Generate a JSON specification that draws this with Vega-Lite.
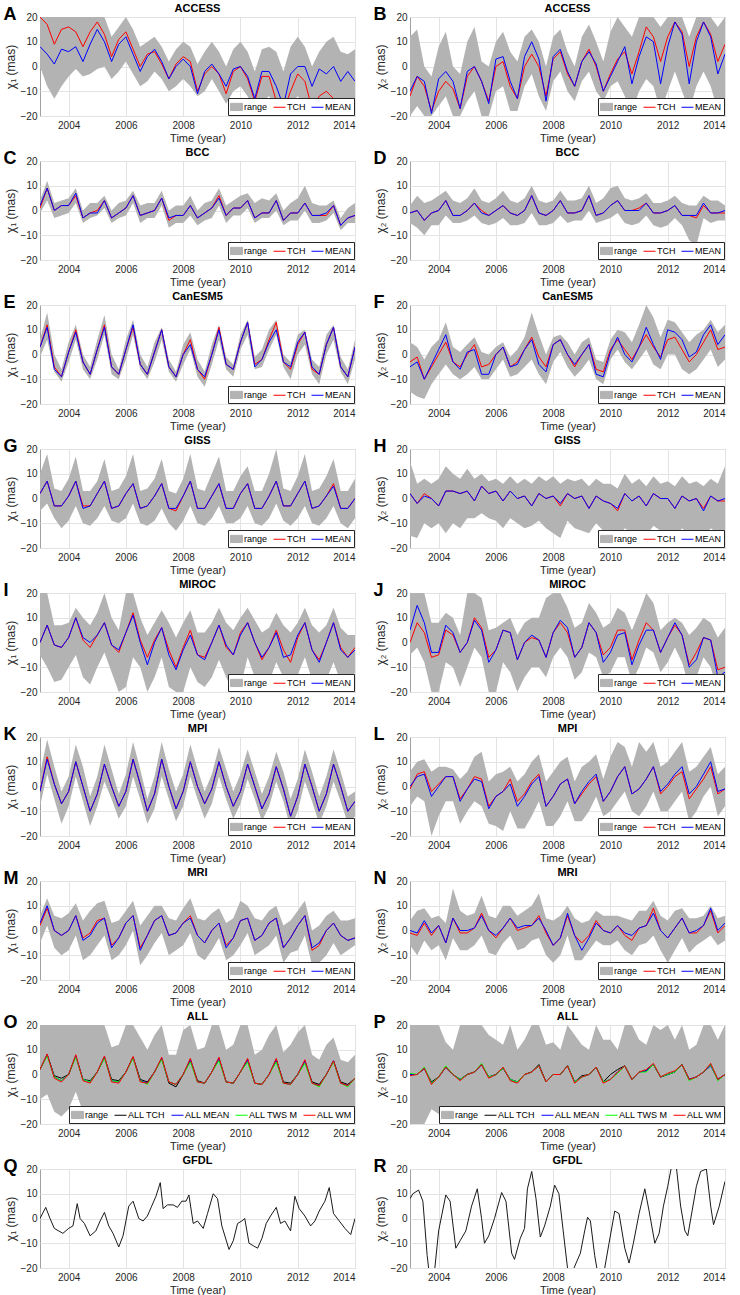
{
  "$schema": "https://vega.github.io/schema/vega-lite/v6.json",
  "padding": {"left": 2, "top": 2, "right": 0, "bottom": 0},
  "autosize": {"type": "pad"},
  "bounds": "flush",
  "columns": 2,
  "spacing": {"row": 45, "column": 55},
  "resolve": {"scale": {"color": "independent"}},
  "datasets": {
    "A": [
      {"t":2003,"lo":0,"hi":20,"TCH":20,"MEAN":8},{"t":2003.25,"lo":-8,"hi":20,"TCH":17,"MEAN":5},{"t":2003.5,"lo":-13,"hi":20,"TCH":9,"MEAN":1},{"t":2003.75,"lo":-8,"hi":20,"TCH":15,"MEAN":7},
      {"t":2004,"lo":-4,"hi":20,"TCH":16,"MEAN":6},{"t":2004.25,"lo":-1,"hi":20,"TCH":14,"MEAN":8},{"t":2004.5,"lo":-4,"hi":20,"TCH":8,"MEAN":2},{"t":2004.75,"lo":-3,"hi":20,"TCH":14,"MEAN":9},
      {"t":2005,"lo":-1,"hi":20,"TCH":18,"MEAN":15},{"t":2005.25,"lo":0,"hi":20,"TCH":13,"MEAN":10},{"t":2005.5,"lo":-5,"hi":12,"TCH":4,"MEAN":2},{"t":2005.75,"lo":-2,"hi":16,"TCH":11,"MEAN":9},
      {"t":2006,"lo":2,"hi":20,"TCH":14,"MEAN":12},{"t":2006.25,"lo":-3,"hi":15,"TCH":7,"MEAN":5},{"t":2006.5,"lo":-8,"hi":8,"TCH":0,"MEAN":-2},{"t":2006.75,"lo":-6,"hi":10,"TCH":5,"MEAN":4},
      {"t":2007,"lo":-2,"hi":12,"TCH":6,"MEAN":7},{"t":2007.25,"lo":-5,"hi":8,"TCH":1,"MEAN":2},{"t":2007.5,"lo":-10,"hi":2,"TCH":-5,"MEAN":-5},{"t":2007.75,"lo":-8,"hi":7,"TCH":1,"MEAN":0},
      {"t":2008,"lo":-5,"hi":10,"TCH":4,"MEAN":3},{"t":2008.25,"lo":-8,"hi":8,"TCH":2,"MEAN":0},{"t":2008.5,"lo":-12,"hi":1,"TCH":-10,"MEAN":-11},{"t":2008.75,"lo":-10,"hi":6,"TCH":-3,"MEAN":-2},
      {"t":2009,"lo":-5,"hi":10,"TCH":0,"MEAN":1},{"t":2009.25,"lo":-10,"hi":6,"TCH":-3,"MEAN":-3},{"t":2009.5,"lo":-15,"hi":0,"TCH":-11,"MEAN":-8},{"t":2009.75,"lo":-10,"hi":7,"TCH":-2,"MEAN":-1},
      {"t":2010,"lo":-8,"hi":10,"TCH":0,"MEAN":0},{"t":2010.25,"lo":-12,"hi":6,"TCH":-5,"MEAN":-4},{"t":2010.5,"lo":-18,"hi":-2,"TCH":-14,"MEAN":-13},{"t":2010.75,"lo":-14,"hi":7,"TCH":-4,"MEAN":-2},
      {"t":2011,"lo":-12,"hi":8,"TCH":-4,"MEAN":-2},{"t":2011.25,"lo":-16,"hi":6,"TCH":-14,"MEAN":-8},{"t":2011.5,"lo":-20,"hi":-2,"TCH":-18,"MEAN":-16},{"t":2011.75,"lo":-15,"hi":8,"TCH":-10,"MEAN":-3},
      {"t":2012,"lo":-12,"hi":12,"TCH":-3,"MEAN":0},{"t":2012.25,"lo":-15,"hi":8,"TCH":-6,"MEAN":0},{"t":2012.5,"lo":-20,"hi":0,"TCH":-17,"MEAN":-8},{"t":2012.75,"lo":-18,"hi":6,"TCH":-12,"MEAN":-1},
      {"t":2013,"lo":-17,"hi":10,"TCH":-10,"MEAN":-3},{"t":2013.25,"lo":-20,"hi":12,"TCH":-13,"MEAN":0},{"t":2013.5,"lo":-20,"hi":6,"TCH":-16,"MEAN":-6},{"t":2013.75,"lo":-18,"hi":5,"TCH":-13,"MEAN":-2},
      {"t":2014,"lo":-18,"hi":7,"TCH":-13,"MEAN":-6}
    ],
    "B": [
      {"t":2003,"lo":-20,"hi":12,"TCH":-12,"MEAN":-10},{"t":2003.25,"lo":-16,"hi":15,"TCH":-4,"MEAN":-4},{"t":2003.5,"lo":-20,"hi":0,"TCH":-8,"MEAN":-6},{"t":2003.75,"lo":-20,"hi":-4,"TCH":-18,"MEAN":-19},
      {"t":2004,"lo":-16,"hi":8,"TCH":-10,"MEAN":-5},{"t":2004.25,"lo":-12,"hi":14,"TCH":-6,"MEAN":-2},{"t":2004.5,"lo":-20,"hi":0,"TCH":-9,"MEAN":-6},{"t":2004.75,"lo":-20,"hi":-3,"TCH":-17,"MEAN":-17},
      {"t":2005,"lo":-14,"hi":10,"TCH":-4,"MEAN":-2},{"t":2005.25,"lo":-10,"hi":16,"TCH":0,"MEAN":0},{"t":2005.5,"lo":-20,"hi":2,"TCH":-6,"MEAN":-6},{"t":2005.75,"lo":-20,"hi":0,"TCH":-14,"MEAN":-15},
      {"t":2006,"lo":-10,"hi":10,"TCH":0,"MEAN":3},{"t":2006.25,"lo":-8,"hi":14,"TCH":2,"MEAN":4},{"t":2006.5,"lo":-18,"hi":6,"TCH":-8,"MEAN":-6},{"t":2006.75,"lo":-18,"hi":2,"TCH":-13,"MEAN":-13},
      {"t":2007,"lo":-8,"hi":12,"TCH":0,"MEAN":4},{"t":2007.25,"lo":-3,"hi":15,"TCH":5,"MEAN":10},{"t":2007.5,"lo":-12,"hi":10,"TCH":0,"MEAN":3},{"t":2007.75,"lo":-18,"hi":0,"TCH":-12,"MEAN":-14},
      {"t":2008,"lo":-6,"hi":12,"TCH":3,"MEAN":4},{"t":2008.25,"lo":-2,"hi":15,"TCH":6,"MEAN":7},{"t":2008.5,"lo":-10,"hi":6,"TCH":-3,"MEAN":-2},{"t":2008.75,"lo":-14,"hi":0,"TCH":-8,"MEAN":-8},
      {"t":2009,"lo":-6,"hi":12,"TCH":2,"MEAN":2},{"t":2009.25,"lo":-2,"hi":17,"TCH":7,"MEAN":6},{"t":2009.5,"lo":-10,"hi":10,"TCH":0,"MEAN":1},{"t":2009.75,"lo":-14,"hi":2,"TCH":-10,"MEAN":-10},
      {"t":2010,"lo":-8,"hi":14,"TCH":-3,"MEAN":-4},{"t":2010.25,"lo":-6,"hi":20,"TCH":3,"MEAN":2},{"t":2010.5,"lo":-12,"hi":16,"TCH":6,"MEAN":8},{"t":2010.75,"lo":-18,"hi":12,"TCH":-3,"MEAN":-7},
      {"t":2011,"lo":-10,"hi":20,"TCH":6,"MEAN":4},{"t":2011.25,"lo":-5,"hi":20,"TCH":16,"MEAN":12},{"t":2011.5,"lo":-8,"hi":20,"TCH":12,"MEAN":10},{"t":2011.75,"lo":-18,"hi":16,"TCH":2,"MEAN":-7},
      {"t":2012,"lo":-10,"hi":20,"TCH":12,"MEAN":8},{"t":2012.25,"lo":-2,"hi":20,"TCH":18,"MEAN":18},{"t":2012.5,"lo":-10,"hi":20,"TCH":14,"MEAN":13},{"t":2012.75,"lo":-18,"hi":12,"TCH":0,"MEAN":-7},
      {"t":2013,"lo":-8,"hi":20,"TCH":12,"MEAN":10},{"t":2013.25,"lo":-2,"hi":20,"TCH":18,"MEAN":18},{"t":2013.5,"lo":-8,"hi":20,"TCH":13,"MEAN":12},{"t":2013.75,"lo":-18,"hi":16,"TCH":2,"MEAN":-3},
      {"t":2014,"lo":-14,"hi":20,"TCH":9,"MEAN":5}
    ],
    "C": [
      {"t":2003,"lo":-1,"hi":4,"TCH":1,"MEAN":2},{"t":2003.25,"lo":4,"hi":12,"TCH":9,"MEAN":9},{"t":2003.5,"lo":-3,"hi":3,"TCH":0,"MEAN":0},{"t":2003.75,"lo":-2,"hi":4,"TCH":2,"MEAN":2},
      {"t":2004,"lo":-1,"hi":5,"TCH":2,"MEAN":2},{"t":2004.25,"lo":3,"hi":9,"TCH":6,"MEAN":7},{"t":2004.5,"lo":-5,"hi":0,"TCH":-3,"MEAN":-3},{"t":2004.75,"lo":-3,"hi":3,"TCH":-1,"MEAN":-1},
      {"t":2005,"lo":-2,"hi":3,"TCH":0,"MEAN":-1},{"t":2005.25,"lo":1,"hi":6,"TCH":4,"MEAN":4},{"t":2005.5,"lo":-5,"hi":0,"TCH":-3,"MEAN":-3},{"t":2005.75,"lo":-3,"hi":3,"TCH":-1,"MEAN":-1},
      {"t":2006,"lo":-2,"hi":4,"TCH":1,"MEAN":1},{"t":2006.25,"lo":3,"hi":8,"TCH":6,"MEAN":6},{"t":2006.5,"lo":-5,"hi":2,"TCH":-2,"MEAN":-2},{"t":2006.75,"lo":-3,"hi":3,"TCH":-1,"MEAN":-1},
      {"t":2007,"lo":-3,"hi":3,"TCH":0,"MEAN":0},{"t":2007.25,"lo":2,"hi":8,"TCH":5,"MEAN":5},{"t":2007.5,"lo":-7,"hi":0,"TCH":-4,"MEAN":-3},{"t":2007.75,"lo":-5,"hi":2,"TCH":-2,"MEAN":-2},
      {"t":2008,"lo":-5,"hi":2,"TCH":-2,"MEAN":-2},{"t":2008.25,"lo":-2,"hi":6,"TCH":2,"MEAN":2},{"t":2008.5,"lo":-6,"hi":0,"TCH":-3,"MEAN":-3},{"t":2008.75,"lo":-4,"hi":3,"TCH":-1,"MEAN":-1},
      {"t":2009,"lo":-3,"hi":4,"TCH":1,"MEAN":1},{"t":2009.25,"lo":2,"hi":9,"TCH":6,"MEAN":5},{"t":2009.5,"lo":-5,"hi":2,"TCH":-2,"MEAN":-2},{"t":2009.75,"lo":-2,"hi":4,"TCH":1,"MEAN":1},
      {"t":2010,"lo":-2,"hi":6,"TCH":1,"MEAN":1},{"t":2010.25,"lo":1,"hi":7,"TCH":4,"MEAN":4},{"t":2010.5,"lo":-5,"hi":3,"TCH":-3,"MEAN":-3},{"t":2010.75,"lo":-3,"hi":5,"TCH":-1,"MEAN":-1},
      {"t":2011,"lo":-3,"hi":4,"TCH":-1,"MEAN":-1},{"t":2011.25,"lo":0,"hi":7,"TCH":4,"MEAN":4},{"t":2011.5,"lo":-6,"hi":0,"TCH":-4,"MEAN":-4},{"t":2011.75,"lo":-4,"hi":3,"TCH":-1,"MEAN":-1},
      {"t":2012,"lo":-4,"hi":5,"TCH":-1,"MEAN":-1},{"t":2012.25,"lo":0,"hi":10,"TCH":3,"MEAN":3},{"t":2012.5,"lo":-5,"hi":3,"TCH":-2,"MEAN":-2},{"t":2012.75,"lo":-5,"hi":2,"TCH":-2,"MEAN":-2},
      {"t":2013,"lo":-4,"hi":2,"TCH":-2,"MEAN":-1},{"t":2013.25,"lo":-1,"hi":4,"TCH":2,"MEAN":2},{"t":2013.5,"lo":-8,"hi":-3,"TCH":-6,"MEAN":-6},{"t":2013.75,"lo":-5,"hi":1,"TCH":-3,"MEAN":-3},
      {"t":2014,"lo":-5,"hi":3,"TCH":-2,"MEAN":-2}
    ],
    "D": [
      {"t":2003,"lo":-5,"hi":2,"TCH":-1,"MEAN":-1},{"t":2003.25,"lo":-7,"hi":6,"TCH":0,"MEAN":0},{"t":2003.5,"lo":-10,"hi":3,"TCH":-4,"MEAN":-4},{"t":2003.75,"lo":-6,"hi":4,"TCH":-1,"MEAN":-1},
      {"t":2004,"lo":-6,"hi":6,"TCH":0,"MEAN":0},{"t":2004.25,"lo":-2,"hi":8,"TCH":4,"MEAN":4},{"t":2004.5,"lo":-5,"hi":4,"TCH":-2,"MEAN":-2},{"t":2004.75,"lo":-5,"hi":3,"TCH":-2,"MEAN":-2},
      {"t":2005,"lo":-4,"hi":5,"TCH":0,"MEAN":0},{"t":2005.25,"lo":-2,"hi":9,"TCH":3,"MEAN":3},{"t":2005.5,"lo":-5,"hi":4,"TCH":0,"MEAN":-1},{"t":2005.75,"lo":-6,"hi":3,"TCH":-2,"MEAN":-2},
      {"t":2006,"lo":-5,"hi":5,"TCH":0,"MEAN":0},{"t":2006.25,"lo":-3,"hi":8,"TCH":2,"MEAN":2},{"t":2006.5,"lo":-6,"hi":4,"TCH":-1,"MEAN":-1},{"t":2006.75,"lo":-6,"hi":3,"TCH":-2,"MEAN":-2},
      {"t":2007,"lo":-5,"hi":5,"TCH":0,"MEAN":0},{"t":2007.25,"lo":-1,"hi":10,"TCH":6,"MEAN":6},{"t":2007.5,"lo":-6,"hi":4,"TCH":-1,"MEAN":-1},{"t":2007.75,"lo":-6,"hi":3,"TCH":-2,"MEAN":-2},
      {"t":2008,"lo":-5,"hi":4,"TCH":0,"MEAN":0},{"t":2008.25,"lo":-2,"hi":8,"TCH":4,"MEAN":4},{"t":2008.5,"lo":-5,"hi":4,"TCH":-1,"MEAN":-1},{"t":2008.75,"lo":-4,"hi":4,"TCH":-1,"MEAN":-1},
      {"t":2009,"lo":-4,"hi":5,"TCH":0,"MEAN":0},{"t":2009.25,"lo":0,"hi":10,"TCH":6,"MEAN":6},{"t":2009.5,"lo":-5,"hi":3,"TCH":-2,"MEAN":-2},{"t":2009.75,"lo":-4,"hi":5,"TCH":-1,"MEAN":-1},
      {"t":2010,"lo":-3,"hi":9,"TCH":2,"MEAN":2},{"t":2010.25,"lo":-1,"hi":10,"TCH":4,"MEAN":4},{"t":2010.5,"lo":-5,"hi":5,"TCH":0,"MEAN":0},{"t":2010.75,"lo":-6,"hi":4,"TCH":0,"MEAN":0},
      {"t":2011,"lo":-5,"hi":5,"TCH":1,"MEAN":0},{"t":2011.25,"lo":-2,"hi":7,"TCH":3,"MEAN":3},{"t":2011.5,"lo":-6,"hi":3,"TCH":-1,"MEAN":-1},{"t":2011.75,"lo":-7,"hi":3,"TCH":-1,"MEAN":-1},
      {"t":2012,"lo":-6,"hi":4,"TCH":0,"MEAN":0},{"t":2012.25,"lo":-3,"hi":6,"TCH":2,"MEAN":2},{"t":2012.5,"lo":-6,"hi":3,"TCH":-2,"MEAN":-2},{"t":2012.75,"lo":-12,"hi":2,"TCH":-2,"MEAN":-2},
      {"t":2013,"lo":-14,"hi":2,"TCH":-3,"MEAN":-2},{"t":2013.25,"lo":-3,"hi":6,"TCH":2,"MEAN":3},{"t":2013.5,"lo":-5,"hi":4,"TCH":-1,"MEAN":-1},{"t":2013.75,"lo":-4,"hi":4,"TCH":-1,"MEAN":-1},
      {"t":2014,"lo":-4,"hi":2,"TCH":-1,"MEAN":0}
    ],
    "E": [
      {"t":2003,"lo":-1,"hi":6,"TCH":3,"MEAN":3},{"t":2003.25,"lo":6,"hi":17,"TCH":12,"MEAN":11},{"t":2003.5,"lo":-7,"hi":0,"TCH":-5,"MEAN":-6},{"t":2003.75,"lo":-11,"hi":-6,"TCH":-9,"MEAN":-9},
      {"t":2004,"lo":-3,"hi":5,"TCH":1,"MEAN":1},{"t":2004.25,"lo":6,"hi":12,"TCH":10,"MEAN":9},{"t":2004.5,"lo":-6,"hi":0,"TCH":-3,"MEAN":-3},{"t":2004.75,"lo":-10,"hi":-5,"TCH":-8,"MEAN":-8},
      {"t":2005,"lo":-2,"hi":6,"TCH":2,"MEAN":2},{"t":2005.25,"lo":8,"hi":16,"TCH":12,"MEAN":11},{"t":2005.5,"lo":-8,"hi":0,"TCH":-5,"MEAN":-5},{"t":2005.75,"lo":-10,"hi":-6,"TCH":-8,"MEAN":-8},
      {"t":2006,"lo":-2,"hi":6,"TCH":2,"MEAN":2},{"t":2006.25,"lo":8,"hi":14,"TCH":11,"MEAN":12},{"t":2006.5,"lo":-6,"hi":0,"TCH":-4,"MEAN":-4},{"t":2006.75,"lo":-10,"hi":-5,"TCH":-8,"MEAN":-8},
      {"t":2007,"lo":-3,"hi":5,"TCH":1,"MEAN":1},{"t":2007.25,"lo":6,"hi":11,"TCH":10,"MEAN":10},{"t":2007.5,"lo":-7,"hi":-2,"TCH":-5,"MEAN":-5},{"t":2007.75,"lo":-11,"hi":-7,"TCH":-9,"MEAN":-9},
      {"t":2008,"lo":-4,"hi":4,"TCH":0,"MEAN":0},{"t":2008.25,"lo":2,"hi":9,"TCH":6,"MEAN":4},{"t":2008.5,"lo":-9,"hi":-2,"TCH":-6,"MEAN":-6},{"t":2008.75,"lo":-13,"hi":-7,"TCH":-10,"MEAN":-9},
      {"t":2009,"lo":-4,"hi":4,"TCH":0,"MEAN":0},{"t":2009.25,"lo":6,"hi":12,"TCH":11,"MEAN":10},{"t":2009.5,"lo":-6,"hi":-1,"TCH":-4,"MEAN":-4},{"t":2009.75,"lo":-9,"hi":-4,"TCH":-6,"MEAN":-6},
      {"t":2010,"lo":2,"hi":8,"TCH":5,"MEAN":5},{"t":2010.25,"lo":8,"hi":14,"TCH":13,"MEAN":13},{"t":2010.5,"lo":-6,"hi":-1,"TCH":-4,"MEAN":-5},{"t":2010.75,"lo":-5,"hi":2,"TCH":-2,"MEAN":-2},
      {"t":2011,"lo":2,"hi":10,"TCH":6,"MEAN":5},{"t":2011.25,"lo":8,"hi":14,"TCH":13,"MEAN":10},{"t":2011.5,"lo":-5,"hi":0,"TCH":-3,"MEAN":-3},{"t":2011.75,"lo":-10,"hi":-3,"TCH":-6,"MEAN":-5},
      {"t":2012,"lo":0,"hi":8,"TCH":4,"MEAN":5},{"t":2012.25,"lo":4,"hi":10,"TCH":9,"MEAN":9},{"t":2012.5,"lo":-8,"hi":-2,"TCH":-6,"MEAN":-5},{"t":2012.75,"lo":-12,"hi":-5,"TCH":-8,"MEAN":-8},
      {"t":2013,"lo":0,"hi":8,"TCH":4,"MEAN":4},{"t":2013.25,"lo":6,"hi":12,"TCH":11,"MEAN":11},{"t":2013.5,"lo":-7,"hi":-1,"TCH":-5,"MEAN":-5},{"t":2013.75,"lo":-12,"hi":-6,"TCH":-9,"MEAN":-9},
      {"t":2014,"lo":-2,"hi":6,"TCH":3,"MEAN":3}
    ],
    "F": [
      {"t":2003,"lo":-15,"hi":5,"TCH":-3,"MEAN":-5},{"t":2003.25,"lo":-17,"hi":3,"TCH":-1,"MEAN":-3},{"t":2003.5,"lo":-18,"hi":-2,"TCH":-10,"MEAN":-10},{"t":2003.75,"lo":-12,"hi":3,"TCH":-5,"MEAN":-4},
      {"t":2004,"lo":-8,"hi":6,"TCH":0,"MEAN":2},{"t":2004.25,"lo":-4,"hi":13,"TCH":5,"MEAN":8},{"t":2004.5,"lo":-8,"hi":3,"TCH":-3,"MEAN":-3},{"t":2004.75,"lo":-10,"hi":1,"TCH":-5,"MEAN":-6},
      {"t":2005,"lo":-8,"hi":4,"TCH":0,"MEAN":1},{"t":2005.25,"lo":-5,"hi":7,"TCH":4,"MEAN":2},{"t":2005.5,"lo":-10,"hi":1,"TCH":-5,"MEAN":-8},{"t":2005.75,"lo":-10,"hi":0,"TCH":-4,"MEAN":-8},
      {"t":2006,"lo":-6,"hi":3,"TCH":0,"MEAN":0},{"t":2006.25,"lo":-2,"hi":5,"TCH":3,"MEAN":3},{"t":2006.5,"lo":-9,"hi":-1,"TCH":-5,"MEAN":-5},{"t":2006.75,"lo":-8,"hi":2,"TCH":-3,"MEAN":-4},
      {"t":2007,"lo":-5,"hi":7,"TCH":2,"MEAN":2},{"t":2007.25,"lo":-2,"hi":17,"TCH":7,"MEAN":6},{"t":2007.5,"lo":-8,"hi":8,"TCH":-1,"MEAN":-4},{"t":2007.75,"lo":-12,"hi":0,"TCH":-5,"MEAN":-7},
      {"t":2008,"lo":-3,"hi":7,"TCH":4,"MEAN":4},{"t":2008.25,"lo":1,"hi":8,"TCH":6,"MEAN":6},{"t":2008.5,"lo":-5,"hi":5,"TCH":0,"MEAN":0},{"t":2008.75,"lo":-9,"hi":0,"TCH":-5,"MEAN":-4},
      {"t":2009,"lo":-6,"hi":5,"TCH":0,"MEAN":0},{"t":2009.25,"lo":-2,"hi":7,"TCH":4,"MEAN":4},{"t":2009.5,"lo":-10,"hi":-2,"TCH":-6,"MEAN":-8},{"t":2009.75,"lo":-12,"hi":-3,"TCH":-7,"MEAN":-9},
      {"t":2010,"lo":-2,"hi":6,"TCH":2,"MEAN":1},{"t":2010.25,"lo":2,"hi":10,"TCH":6,"MEAN":7},{"t":2010.5,"lo":-3,"hi":9,"TCH":2,"MEAN":0},{"t":2010.75,"lo":-6,"hi":5,"TCH":-2,"MEAN":-3},
      {"t":2011,"lo":-2,"hi":12,"TCH":3,"MEAN":3},{"t":2011.25,"lo":2,"hi":20,"TCH":8,"MEAN":11},{"t":2011.5,"lo":-4,"hi":15,"TCH":3,"MEAN":4},{"t":2011.75,"lo":-6,"hi":7,"TCH":-1,"MEAN":-2},
      {"t":2012,"lo":0,"hi":14,"TCH":6,"MEAN":10},{"t":2012.25,"lo":0,"hi":13,"TCH":7,"MEAN":9},{"t":2012.5,"lo":-6,"hi":9,"TCH":2,"MEAN":6},{"t":2012.75,"lo":-8,"hi":5,"TCH":-3,"MEAN":-1},
      {"t":2013,"lo":-6,"hi":8,"TCH":0,"MEAN":1},{"t":2013.25,"lo":-2,"hi":10,"TCH":5,"MEAN":8},{"t":2013.5,"lo":2,"hi":14,"TCH":10,"MEAN":12},{"t":2013.75,"lo":-5,"hi":9,"TCH":2,"MEAN":4},
      {"t":2014,"lo":-2,"hi":12,"TCH":3,"MEAN":8}
    ],
    "G": [
      {"t":2003,"lo":-5,"hi":10,"TCH":2,"MEAN":2},{"t":2003.25,"lo":-2,"hi":18,"TCH":7,"MEAN":7},{"t":2003.5,"lo":-8,"hi":4,"TCH":-3,"MEAN":-3},{"t":2003.75,"lo":-12,"hi":3,"TCH":-3,"MEAN":-3},
      {"t":2004,"lo":-9,"hi":8,"TCH":1,"MEAN":1},{"t":2004.25,"lo":-3,"hi":17,"TCH":7,"MEAN":7},{"t":2004.5,"lo":-10,"hi":3,"TCH":-3,"MEAN":-4},{"t":2004.75,"lo":-11,"hi":3,"TCH":-3,"MEAN":-3},
      {"t":2005,"lo":-8,"hi":7,"TCH":2,"MEAN":2},{"t":2005.25,"lo":-3,"hi":16,"TCH":7,"MEAN":7},{"t":2005.5,"lo":-9,"hi":3,"TCH":-4,"MEAN":-4},{"t":2005.75,"lo":-10,"hi":4,"TCH":-3,"MEAN":-3},
      {"t":2006,"lo":-8,"hi":9,"TCH":2,"MEAN":2},{"t":2006.25,"lo":-2,"hi":18,"TCH":6,"MEAN":6},{"t":2006.5,"lo":-10,"hi":3,"TCH":-4,"MEAN":-4},{"t":2006.75,"lo":-11,"hi":4,"TCH":-3,"MEAN":-3},
      {"t":2007,"lo":-9,"hi":8,"TCH":1,"MEAN":1},{"t":2007.25,"lo":-4,"hi":16,"TCH":6,"MEAN":6},{"t":2007.5,"lo":-10,"hi":3,"TCH":-4,"MEAN":-4},{"t":2007.75,"lo":-13,"hi":2,"TCH":-5,"MEAN":-4},
      {"t":2008,"lo":-9,"hi":8,"TCH":1,"MEAN":1},{"t":2008.25,"lo":-3,"hi":18,"TCH":7,"MEAN":7},{"t":2008.5,"lo":-10,"hi":4,"TCH":-4,"MEAN":-4},{"t":2008.75,"lo":-11,"hi":3,"TCH":-4,"MEAN":-4},
      {"t":2009,"lo":-8,"hi":10,"TCH":1,"MEAN":1},{"t":2009.25,"lo":-3,"hi":17,"TCH":6,"MEAN":6},{"t":2009.5,"lo":-10,"hi":3,"TCH":-4,"MEAN":-4},{"t":2009.75,"lo":-10,"hi":3,"TCH":-4,"MEAN":-4},
      {"t":2010,"lo":-8,"hi":9,"TCH":2,"MEAN":2},{"t":2010.25,"lo":-3,"hi":13,"TCH":6,"MEAN":6},{"t":2010.5,"lo":-10,"hi":3,"TCH":-4,"MEAN":-4},{"t":2010.75,"lo":-11,"hi":3,"TCH":-4,"MEAN":-4},
      {"t":2011,"lo":-8,"hi":10,"TCH":1,"MEAN":1},{"t":2011.25,"lo":-2,"hi":20,"TCH":7,"MEAN":7},{"t":2011.5,"lo":-9,"hi":4,"TCH":-3,"MEAN":-3},{"t":2011.75,"lo":-11,"hi":3,"TCH":-3,"MEAN":-3},
      {"t":2012,"lo":-8,"hi":9,"TCH":2,"MEAN":2},{"t":2012.25,"lo":-3,"hi":18,"TCH":7,"MEAN":7},{"t":2012.5,"lo":-10,"hi":3,"TCH":-4,"MEAN":-4},{"t":2012.75,"lo":-11,"hi":4,"TCH":-3,"MEAN":-3},
      {"t":2013,"lo":-8,"hi":9,"TCH":1,"MEAN":1},{"t":2013.25,"lo":-3,"hi":16,"TCH":6,"MEAN":5},{"t":2013.5,"lo":-10,"hi":3,"TCH":-4,"MEAN":-4},{"t":2013.75,"lo":-12,"hi":3,"TCH":-4,"MEAN":-4},
      {"t":2014,"lo":-8,"hi":8,"TCH":0,"MEAN":0}
    ],
    "H": [
      {"t":2003,"lo":-15,"hi":15,"TCH":2,"MEAN":2},{"t":2003.25,"lo":-16,"hi":6,"TCH":-2,"MEAN":-2},{"t":2003.5,"lo":-10,"hi":8,"TCH":2,"MEAN":1},{"t":2003.75,"lo":-12,"hi":6,"TCH":0,"MEAN":0},
      {"t":2004,"lo":-10,"hi":8,"TCH":-3,"MEAN":-3},{"t":2004.25,"lo":-14,"hi":13,"TCH":3,"MEAN":3},{"t":2004.5,"lo":-10,"hi":10,"TCH":3,"MEAN":3},{"t":2004.75,"lo":-12,"hi":8,"TCH":2,"MEAN":2},
      {"t":2005,"lo":-8,"hi":12,"TCH":3,"MEAN":3},{"t":2005.25,"lo":-8,"hi":8,"TCH":-1,"MEAN":-1},{"t":2005.5,"lo":-6,"hi":10,"TCH":5,"MEAN":5},{"t":2005.75,"lo":-8,"hi":7,"TCH":2,"MEAN":2},
      {"t":2006,"lo":-9,"hi":8,"TCH":3,"MEAN":3},{"t":2006.25,"lo":-12,"hi":6,"TCH":-1,"MEAN":-1},{"t":2006.5,"lo":-8,"hi":9,"TCH":3,"MEAN":3},{"t":2006.75,"lo":-10,"hi":6,"TCH":0,"MEAN":0},
      {"t":2007,"lo":-12,"hi":8,"TCH":1,"MEAN":1},{"t":2007.25,"lo":-11,"hi":6,"TCH":-3,"MEAN":-3},{"t":2007.5,"lo":-9,"hi":9,"TCH":2,"MEAN":2},{"t":2007.75,"lo":-12,"hi":7,"TCH":0,"MEAN":0},
      {"t":2008,"lo":-14,"hi":9,"TCH":1,"MEAN":1},{"t":2008.25,"lo":-16,"hi":6,"TCH":-3,"MEAN":-2},{"t":2008.5,"lo":-9,"hi":8,"TCH":2,"MEAN":2},{"t":2008.75,"lo":-12,"hi":7,"TCH":0,"MEAN":0},
      {"t":2009,"lo":-13,"hi":8,"TCH":1,"MEAN":1},{"t":2009.25,"lo":-14,"hi":5,"TCH":-4,"MEAN":-4},{"t":2009.5,"lo":-10,"hi":8,"TCH":1,"MEAN":1},{"t":2009.75,"lo":-13,"hi":6,"TCH":-1,"MEAN":-1},
      {"t":2010,"lo":-15,"hi":6,"TCH":-2,"MEAN":-2},{"t":2010.25,"lo":-16,"hi":4,"TCH":-5,"MEAN":-4},{"t":2010.5,"lo":-12,"hi":10,"TCH":2,"MEAN":2},{"t":2010.75,"lo":-14,"hi":6,"TCH":-1,"MEAN":-1},
      {"t":2011,"lo":-14,"hi":8,"TCH":1,"MEAN":1},{"t":2011.25,"lo":-15,"hi":5,"TCH":-3,"MEAN":-3},{"t":2011.5,"lo":-11,"hi":9,"TCH":2,"MEAN":2},{"t":2011.75,"lo":-13,"hi":6,"TCH":0,"MEAN":0},
      {"t":2012,"lo":-16,"hi":7,"TCH":0,"MEAN":0},{"t":2012.25,"lo":-17,"hi":5,"TCH":-4,"MEAN":-4},{"t":2012.5,"lo":-12,"hi":9,"TCH":1,"MEAN":1},{"t":2012.75,"lo":-15,"hi":6,"TCH":-1,"MEAN":-1},
      {"t":2013,"lo":-14,"hi":7,"TCH":0,"MEAN":0},{"t":2013.25,"lo":-17,"hi":5,"TCH":-4,"MEAN":-5},{"t":2013.5,"lo":-12,"hi":8,"TCH":1,"MEAN":1},{"t":2013.75,"lo":-14,"hi":6,"TCH":-1,"MEAN":-1},
      {"t":2014,"lo":-16,"hi":13,"TCH":-1,"MEAN":0}
    ],
    "I": [
      {"t":2003,"lo":-5,"hi":20,"TCH":0,"MEAN":0},{"t":2003.25,"lo":-10,"hi":20,"TCH":7,"MEAN":7},{"t":2003.5,"lo":-16,"hi":7,"TCH":-1,"MEAN":-1},{"t":2003.75,"lo":-15,"hi":7,"TCH":-2,"MEAN":-2},
      {"t":2004,"lo":-10,"hi":8,"TCH":2,"MEAN":2},{"t":2004.25,"lo":-5,"hi":14,"TCH":10,"MEAN":10},{"t":2004.5,"lo":-14,"hi":10,"TCH":1,"MEAN":2},{"t":2004.75,"lo":-17,"hi":7,"TCH":-2,"MEAN":0},
      {"t":2005,"lo":-10,"hi":12,"TCH":3,"MEAN":3},{"t":2005.25,"lo":-4,"hi":20,"TCH":8,"MEAN":8},{"t":2005.5,"lo":-12,"hi":10,"TCH":-1,"MEAN":-1},{"t":2005.75,"lo":-20,"hi":5,"TCH":-4,"MEAN":-3},
      {"t":2006,"lo":-18,"hi":20,"TCH":4,"MEAN":4},{"t":2006.25,"lo":-6,"hi":20,"TCH":12,"MEAN":11},{"t":2006.5,"lo":-10,"hi":10,"TCH":1,"MEAN":0},{"t":2006.75,"lo":-20,"hi":3,"TCH":-6,"MEAN":-9},
      {"t":2007,"lo":-14,"hi":8,"TCH":1,"MEAN":0},{"t":2007.25,"lo":-6,"hi":13,"TCH":6,"MEAN":6},{"t":2007.5,"lo":-18,"hi":8,"TCH":-3,"MEAN":-5},{"t":2007.75,"lo":-20,"hi":2,"TCH":-10,"MEAN":-11},
      {"t":2008,"lo":-20,"hi":8,"TCH":-2,"MEAN":-3},{"t":2008.25,"lo":-10,"hi":13,"TCH":5,"MEAN":3},{"t":2008.5,"lo":-16,"hi":4,"TCH":-5,"MEAN":-5},{"t":2008.75,"lo":-18,"hi":4,"TCH":-6,"MEAN":-7},
      {"t":2009,"lo":-14,"hi":8,"TCH":0,"MEAN":0},{"t":2009.25,"lo":-7,"hi":14,"TCH":7,"MEAN":7},{"t":2009.5,"lo":-14,"hi":8,"TCH":-2,"MEAN":-1},{"t":2009.75,"lo":-20,"hi":5,"TCH":-5,"MEAN":-5},
      {"t":2010,"lo":-18,"hi":10,"TCH":4,"MEAN":3},{"t":2010.25,"lo":-6,"hi":14,"TCH":8,"MEAN":8},{"t":2010.5,"lo":-14,"hi":9,"TCH":0,"MEAN":0},{"t":2010.75,"lo":-18,"hi":4,"TCH":-7,"MEAN":-6},
      {"t":2011,"lo":-16,"hi":6,"TCH":-2,"MEAN":-2},{"t":2011.25,"lo":-8,"hi":12,"TCH":5,"MEAN":4},{"t":2011.5,"lo":-14,"hi":7,"TCH":-3,"MEAN":-6},{"t":2011.75,"lo":-17,"hi":4,"TCH":-8,"MEAN":-5},
      {"t":2012,"lo":-13,"hi":8,"TCH":2,"MEAN":3},{"t":2012.25,"lo":-6,"hi":14,"TCH":8,"MEAN":8},{"t":2012.5,"lo":-15,"hi":7,"TCH":-3,"MEAN":-3},{"t":2012.75,"lo":-18,"hi":4,"TCH":-7,"MEAN":-8},
      {"t":2013,"lo":-15,"hi":7,"TCH":0,"MEAN":0},{"t":2013.25,"lo":-8,"hi":14,"TCH":8,"MEAN":8},{"t":2013.5,"lo":-16,"hi":6,"TCH":-2,"MEAN":-3},{"t":2013.75,"lo":-20,"hi":3,"TCH":-6,"MEAN":-6},
      {"t":2014,"lo":-12,"hi":3,"TCH":-2,"MEAN":-3}
    ],
    "J": [
      {"t":2003,"lo":-5,"hi":20,"TCH":0,"MEAN":5},{"t":2003.25,"lo":-2,"hi":20,"TCH":8,"MEAN":15},{"t":2003.5,"lo":-8,"hi":20,"TCH":4,"MEAN":8},{"t":2003.75,"lo":-20,"hi":8,"TCH":-6,"MEAN":-4},
      {"t":2004,"lo":-20,"hi":8,"TCH":-5,"MEAN":-4},{"t":2004.25,"lo":-8,"hi":12,"TCH":5,"MEAN":7},{"t":2004.5,"lo":-10,"hi":10,"TCH":3,"MEAN":4},{"t":2004.75,"lo":-18,"hi":3,"TCH":-4,"MEAN":-4},
      {"t":2005,"lo":-10,"hi":20,"TCH":0,"MEAN":0},{"t":2005.25,"lo":-2,"hi":20,"TCH":10,"MEAN":9},{"t":2005.5,"lo":-6,"hi":18,"TCH":6,"MEAN":5},{"t":2005.75,"lo":-20,"hi":5,"TCH":-6,"MEAN":-8},
      {"t":2006,"lo":-20,"hi":6,"TCH":-3,"MEAN":-3},{"t":2006.25,"lo":-8,"hi":8,"TCH":5,"MEAN":5},{"t":2006.5,"lo":-12,"hi":10,"TCH":4,"MEAN":4},{"t":2006.75,"lo":-20,"hi":3,"TCH":-7,"MEAN":-7},
      {"t":2007,"lo":-14,"hi":8,"TCH":0,"MEAN":0},{"t":2007.25,"lo":-10,"hi":10,"TCH":2,"MEAN":3},{"t":2007.5,"lo":-10,"hi":10,"TCH":1,"MEAN":1},{"t":2007.75,"lo":-14,"hi":18,"TCH":-6,"MEAN":-6},
      {"t":2008,"lo":-6,"hi":20,"TCH":4,"MEAN":4},{"t":2008.25,"lo":-2,"hi":20,"TCH":8,"MEAN":9},{"t":2008.5,"lo":-6,"hi":14,"TCH":4,"MEAN":6},{"t":2008.75,"lo":-15,"hi":6,"TCH":-6,"MEAN":-6},
      {"t":2009,"lo":-12,"hi":8,"TCH":-2,"MEAN":-2},{"t":2009.25,"lo":-4,"hi":16,"TCH":8,"MEAN":8},{"t":2009.5,"lo":-6,"hi":12,"TCH":4,"MEAN":4},{"t":2009.75,"lo":-14,"hi":6,"TCH":-5,"MEAN":-8},
      {"t":2010,"lo":-12,"hi":8,"TCH":-2,"MEAN":-4},{"t":2010.25,"lo":-6,"hi":14,"TCH":5,"MEAN":3},{"t":2010.5,"lo":-6,"hi":12,"TCH":5,"MEAN":4},{"t":2010.75,"lo":-16,"hi":5,"TCH":-7,"MEAN":-9},
      {"t":2011,"lo":-10,"hi":12,"TCH":1,"MEAN":-1},{"t":2011.25,"lo":-2,"hi":20,"TCH":8,"MEAN":5},{"t":2011.5,"lo":-4,"hi":16,"TCH":5,"MEAN":5},{"t":2011.75,"lo":-12,"hi":5,"TCH":-4,"MEAN":-4},
      {"t":2012,"lo":-8,"hi":8,"TCH":2,"MEAN":2},{"t":2012.25,"lo":-2,"hi":10,"TCH":7,"MEAN":8},{"t":2012.5,"lo":-8,"hi":8,"TCH":3,"MEAN":3},{"t":2012.75,"lo":-18,"hi":3,"TCH":-9,"MEAN":-10},
      {"t":2013,"lo":-14,"hi":6,"TCH":-4,"MEAN":-7},{"t":2013.25,"lo":-6,"hi":10,"TCH":2,"MEAN":2},{"t":2013.5,"lo":-10,"hi":8,"TCH":1,"MEAN":1},{"t":2013.75,"lo":-20,"hi":2,"TCH":-11,"MEAN":-14},
      {"t":2014,"lo":-20,"hi":6,"TCH":-10,"MEAN":-12}
    ],
    "K": [
      {"t":2003,"lo":-8,"hi":5,"TCH":-2,"MEAN":-2},{"t":2003.25,"lo":5,"hi":19,"TCH":12,"MEAN":11},{"t":2003.5,"lo":-5,"hi":8,"TCH":1,"MEAN":1},{"t":2003.75,"lo":-15,"hi":-2,"TCH":-7,"MEAN":-7},
      {"t":2004,"lo":-8,"hi":4,"TCH":-2,"MEAN":-2},{"t":2004.25,"lo":4,"hi":17,"TCH":10,"MEAN":10},{"t":2004.5,"lo":-6,"hi":8,"TCH":0,"MEAN":0},{"t":2004.75,"lo":-16,"hi":-4,"TCH":-10,"MEAN":-10},
      {"t":2005,"lo":-8,"hi":4,"TCH":-3,"MEAN":-3},{"t":2005.25,"lo":2,"hi":17,"TCH":9,"MEAN":9},{"t":2005.5,"lo":-5,"hi":7,"TCH":0,"MEAN":0},{"t":2005.75,"lo":-13,"hi":-3,"TCH":-8,"MEAN":-8},
      {"t":2006,"lo":-8,"hi":5,"TCH":-2,"MEAN":-2},{"t":2006.25,"lo":4,"hi":18,"TCH":11,"MEAN":11},{"t":2006.5,"lo":-5,"hi":7,"TCH":1,"MEAN":1},{"t":2006.75,"lo":-15,"hi":-5,"TCH":-10,"MEAN":-10},
      {"t":2007,"lo":-9,"hi":4,"TCH":-3,"MEAN":-3},{"t":2007.25,"lo":4,"hi":18,"TCH":11,"MEAN":11},{"t":2007.5,"lo":-5,"hi":7,"TCH":0,"MEAN":0},{"t":2007.75,"lo":-14,"hi":-2,"TCH":-9,"MEAN":-9},
      {"t":2008,"lo":-8,"hi":5,"TCH":-2,"MEAN":-2},{"t":2008.25,"lo":4,"hi":17,"TCH":10,"MEAN":10},{"t":2008.5,"lo":-5,"hi":7,"TCH":0,"MEAN":0},{"t":2008.75,"lo":-13,"hi":-2,"TCH":-7,"MEAN":-7},
      {"t":2009,"lo":-7,"hi":5,"TCH":-1,"MEAN":-1},{"t":2009.25,"lo":4,"hi":16,"TCH":10,"MEAN":10},{"t":2009.5,"lo":-5,"hi":7,"TCH":0,"MEAN":0},{"t":2009.75,"lo":-13,"hi":-2,"TCH":-8,"MEAN":-8},
      {"t":2010,"lo":-7,"hi":5,"TCH":-2,"MEAN":-2},{"t":2010.25,"lo":3,"hi":15,"TCH":9,"MEAN":9},{"t":2010.5,"lo":-5,"hi":6,"TCH":0,"MEAN":0},{"t":2010.75,"lo":-14,"hi":-3,"TCH":-9,"MEAN":-9},
      {"t":2011,"lo":-8,"hi":4,"TCH":-3,"MEAN":-3},{"t":2011.25,"lo":2,"hi":14,"TCH":8,"MEAN":8},{"t":2011.5,"lo":-6,"hi":6,"TCH":-1,"MEAN":-1},{"t":2011.75,"lo":-17,"hi":-5,"TCH":-12,"MEAN":-12},
      {"t":2012,"lo":-10,"hi":3,"TCH":-4,"MEAN":-4},{"t":2012.25,"lo":2,"hi":15,"TCH":9,"MEAN":9},{"t":2012.5,"lo":-6,"hi":6,"TCH":0,"MEAN":0},{"t":2012.75,"lo":-15,"hi":-4,"TCH":-10,"MEAN":-10},
      {"t":2013,"lo":-8,"hi":4,"TCH":-3,"MEAN":-3},{"t":2013.25,"lo":2,"hi":15,"TCH":9,"MEAN":9},{"t":2013.5,"lo":-6,"hi":6,"TCH":0,"MEAN":0},{"t":2013.75,"lo":-15,"hi":-4,"TCH":-10,"MEAN":-10},
      {"t":2014,"lo":-12,"hi":-2,"TCH":-6,"MEAN":-6}
    ],
    "L": [
      {"t":2003,"lo":-8,"hi":6,"TCH":-1,"MEAN":0},{"t":2003.25,"lo":-4,"hi":10,"TCH":5,"MEAN":4},{"t":2003.5,"lo":-6,"hi":11,"TCH":6,"MEAN":5},{"t":2003.75,"lo":-20,"hi":6,"TCH":-2,"MEAN":-4},
      {"t":2004,"lo":-12,"hi":8,"TCH":1,"MEAN":0},{"t":2004.25,"lo":-6,"hi":8,"TCH":4,"MEAN":4},{"t":2004.5,"lo":-6,"hi":7,"TCH":4,"MEAN":4},{"t":2004.75,"lo":-15,"hi":3,"TCH":-5,"MEAN":-6},
      {"t":2005,"lo":-10,"hi":6,"TCH":-1,"MEAN":-1},{"t":2005.25,"lo":-6,"hi":12,"TCH":4,"MEAN":3},{"t":2005.5,"lo":-8,"hi":14,"TCH":3,"MEAN":2},{"t":2005.75,"lo":-15,"hi":2,"TCH":-8,"MEAN":-9},
      {"t":2006,"lo":-16,"hi":5,"TCH":-4,"MEAN":-4},{"t":2006.25,"lo":-18,"hi":6,"TCH":-2,"MEAN":-2},{"t":2006.5,"lo":-10,"hi":8,"TCH":3,"MEAN":1},{"t":2006.75,"lo":-17,"hi":2,"TCH":-6,"MEAN":-8},
      {"t":2007,"lo":-17,"hi":5,"TCH":-3,"MEAN":-4},{"t":2007.25,"lo":-12,"hi":10,"TCH":2,"MEAN":1},{"t":2007.5,"lo":-6,"hi":13,"TCH":5,"MEAN":4},{"t":2007.75,"lo":-16,"hi":2,"TCH":-8,"MEAN":-8},
      {"t":2008,"lo":-16,"hi":6,"TCH":-4,"MEAN":-4},{"t":2008.25,"lo":-12,"hi":10,"TCH":1,"MEAN":1},{"t":2008.5,"lo":-6,"hi":12,"TCH":3,"MEAN":3},{"t":2008.75,"lo":-14,"hi":2,"TCH":-7,"MEAN":-7},
      {"t":2009,"lo":-14,"hi":8,"TCH":-3,"MEAN":-2},{"t":2009.25,"lo":-10,"hi":10,"TCH":1,"MEAN":2},{"t":2009.5,"lo":-4,"hi":13,"TCH":4,"MEAN":5},{"t":2009.75,"lo":-12,"hi":3,"TCH":-6,"MEAN":-6},
      {"t":2010,"lo":-10,"hi":12,"TCH":-2,"MEAN":-2},{"t":2010.25,"lo":-6,"hi":18,"TCH":4,"MEAN":4},{"t":2010.5,"lo":-2,"hi":16,"TCH":8,"MEAN":8},{"t":2010.75,"lo":-10,"hi":8,"TCH":-3,"MEAN":-3},
      {"t":2011,"lo":-12,"hi":18,"TCH":-1,"MEAN":-1},{"t":2011.25,"lo":-8,"hi":14,"TCH":3,"MEAN":3},{"t":2011.5,"lo":-2,"hi":18,"TCH":8,"MEAN":8},{"t":2011.75,"lo":-10,"hi":8,"TCH":-3,"MEAN":-2},
      {"t":2012,"lo":-10,"hi":10,"TCH":0,"MEAN":1},{"t":2012.25,"lo":-6,"hi":14,"TCH":4,"MEAN":5},{"t":2012.5,"lo":-2,"hi":18,"TCH":6,"MEAN":8},{"t":2012.75,"lo":-14,"hi":6,"TCH":-5,"MEAN":-3},
      {"t":2013,"lo":-10,"hi":8,"TCH":-1,"MEAN":0},{"t":2013.25,"lo":-4,"hi":12,"TCH":3,"MEAN":5},{"t":2013.5,"lo":0,"hi":16,"TCH":8,"MEAN":10},{"t":2013.75,"lo":-12,"hi":5,"TCH":-3,"MEAN":-2},
      {"t":2014,"lo":-8,"hi":8,"TCH":-1,"MEAN":-1}
    ],
    "M": [
      {"t":2003,"lo":-5,"hi":6,"TCH":2,"MEAN":3},{"t":2003.25,"lo":2,"hi":13,"TCH":9,"MEAN":10},{"t":2003.5,"lo":-7,"hi":6,"TCH":0,"MEAN":0},{"t":2003.75,"lo":-10,"hi":5,"TCH":-2,"MEAN":-2},
      {"t":2004,"lo":-8,"hi":7,"TCH":0,"MEAN":0},{"t":2004.25,"lo":-2,"hi":11,"TCH":6,"MEAN":6},{"t":2004.5,"lo":-12,"hi":4,"TCH":-3,"MEAN":-4},{"t":2004.75,"lo":-10,"hi":8,"TCH":-1,"MEAN":-2},
      {"t":2005,"lo":-6,"hi":11,"TCH":4,"MEAN":3},{"t":2005.25,"lo":-2,"hi":12,"TCH":5,"MEAN":5},{"t":2005.5,"lo":-12,"hi":3,"TCH":-6,"MEAN":-7},{"t":2005.75,"lo":-10,"hi":4,"TCH":-3,"MEAN":-3},
      {"t":2006,"lo":-6,"hi":8,"TCH":3,"MEAN":3},{"t":2006.25,"lo":0,"hi":12,"TCH":6,"MEAN":6},{"t":2006.5,"lo":-14,"hi":2,"TCH":-7,"MEAN":-8},{"t":2006.75,"lo":-10,"hi":6,"TCH":-2,"MEAN":-2},
      {"t":2007,"lo":-5,"hi":10,"TCH":4,"MEAN":4},{"t":2007.25,"lo":-1,"hi":10,"TCH":6,"MEAN":6},{"t":2007.5,"lo":-10,"hi":5,"TCH":-2,"MEAN":-2},{"t":2007.75,"lo":-8,"hi":4,"TCH":-1,"MEAN":-1},
      {"t":2008,"lo":-6,"hi":9,"TCH":3,"MEAN":3},{"t":2008.25,"lo":-1,"hi":13,"TCH":6,"MEAN":5},{"t":2008.5,"lo":-10,"hi":5,"TCH":-2,"MEAN":-2},{"t":2008.75,"lo":-12,"hi":4,"TCH":-5,"MEAN":-5},
      {"t":2009,"lo":-8,"hi":7,"TCH":0,"MEAN":0},{"t":2009.25,"lo":-3,"hi":9,"TCH":3,"MEAN":3},{"t":2009.5,"lo":-12,"hi":3,"TCH":-6,"MEAN":-7},{"t":2009.75,"lo":-10,"hi":5,"TCH":-3,"MEAN":-3},
      {"t":2010,"lo":-6,"hi":12,"TCH":4,"MEAN":4},{"t":2010.25,"lo":-1,"hi":10,"TCH":5,"MEAN":5},{"t":2010.5,"lo":-10,"hi":5,"TCH":-4,"MEAN":-4},{"t":2010.75,"lo":-8,"hi":4,"TCH":-2,"MEAN":-2},
      {"t":2011,"lo":-6,"hi":8,"TCH":3,"MEAN":3},{"t":2011.25,"lo":-2,"hi":10,"TCH":5,"MEAN":5},{"t":2011.5,"lo":-13,"hi":2,"TCH":-7,"MEAN":-7},{"t":2011.75,"lo":-9,"hi":4,"TCH":-3,"MEAN":-3},
      {"t":2012,"lo":-8,"hi":8,"TCH":2,"MEAN":2},{"t":2012.25,"lo":-2,"hi":12,"TCH":6,"MEAN":6},{"t":2012.5,"lo":-14,"hi":0,"TCH":-8,"MEAN":-7},{"t":2012.75,"lo":-13,"hi":2,"TCH":-6,"MEAN":-5},
      {"t":2013,"lo":-10,"hi":6,"TCH":0,"MEAN":0},{"t":2013.25,"lo":-5,"hi":8,"TCH":3,"MEAN":3},{"t":2013.5,"lo":-10,"hi":4,"TCH":-2,"MEAN":-2},{"t":2013.75,"lo":-8,"hi":4,"TCH":-4,"MEAN":-4},
      {"t":2014,"lo":-6,"hi":5,"TCH":-3,"MEAN":-3}
    ],
    "N": [
      {"t":2003,"lo":-6,"hi":4,"TCH":-1,"MEAN":0},{"t":2003.25,"lo":-10,"hi":8,"TCH":-2,"MEAN":-1},{"t":2003.5,"lo":-4,"hi":9,"TCH":3,"MEAN":4},{"t":2003.75,"lo":-8,"hi":5,"TCH":-2,"MEAN":-1},
      {"t":2004,"lo":-6,"hi":6,"TCH":2,"MEAN":2},{"t":2004.25,"lo":-12,"hi":3,"TCH":-5,"MEAN":-5},{"t":2004.5,"lo":-3,"hi":17,"TCH":5,"MEAN":5},{"t":2004.75,"lo":-8,"hi":8,"TCH":-1,"MEAN":0},
      {"t":2005,"lo":-8,"hi":6,"TCH":-1,"MEAN":0},{"t":2005.25,"lo":-6,"hi":7,"TCH":1,"MEAN":1},{"t":2005.5,"lo":-2,"hi":14,"TCH":7,"MEAN":6},{"t":2005.75,"lo":-9,"hi":6,"TCH":0,"MEAN":0},
      {"t":2006,"lo":-10,"hi":5,"TCH":-3,"MEAN":-2},{"t":2006.25,"lo":-5,"hi":10,"TCH":1,"MEAN":1},{"t":2006.5,"lo":-2,"hi":10,"TCH":5,"MEAN":5},{"t":2006.75,"lo":-8,"hi":6,"TCH":0,"MEAN":1},
      {"t":2007,"lo":-7,"hi":8,"TCH":1,"MEAN":2},{"t":2007.25,"lo":-4,"hi":10,"TCH":2,"MEAN":2},{"t":2007.5,"lo":-3,"hi":15,"TCH":6,"MEAN":5},{"t":2007.75,"lo":-10,"hi":5,"TCH":-1,"MEAN":0},
      {"t":2008,"lo":-13,"hi":4,"TCH":-6,"MEAN":-6},{"t":2008.25,"lo":-10,"hi":6,"TCH":-3,"MEAN":-3},{"t":2008.5,"lo":-2,"hi":10,"TCH":6,"MEAN":7},{"t":2008.75,"lo":-12,"hi":5,"TCH":-2,"MEAN":-2},
      {"t":2009,"lo":-12,"hi":3,"TCH":-5,"MEAN":-8},{"t":2009.25,"lo":-8,"hi":4,"TCH":-2,"MEAN":-3},{"t":2009.5,"lo":-4,"hi":8,"TCH":4,"MEAN":3},{"t":2009.75,"lo":-6,"hi":6,"TCH":0,"MEAN":0},
      {"t":2010,"lo":-6,"hi":6,"TCH":-1,"MEAN":-1},{"t":2010.25,"lo":-4,"hi":6,"TCH":2,"MEAN":2},{"t":2010.5,"lo":-8,"hi":5,"TCH":-2,"MEAN":-1},{"t":2010.75,"lo":-10,"hi":4,"TCH":-4,"MEAN":-2},
      {"t":2011,"lo":-6,"hi":8,"TCH":1,"MEAN":1},{"t":2011.25,"lo":-5,"hi":8,"TCH":2,"MEAN":2},{"t":2011.5,"lo":-2,"hi":12,"TCH":9,"MEAN":7},{"t":2011.75,"lo":-8,"hi":6,"TCH":0,"MEAN":0},
      {"t":2012,"lo":-13,"hi":4,"TCH":-3,"MEAN":-3},{"t":2012.25,"lo":-8,"hi":8,"TCH":1,"MEAN":1},{"t":2012.5,"lo":-3,"hi":9,"TCH":5,"MEAN":5},{"t":2012.75,"lo":-9,"hi":5,"TCH":-1,"MEAN":-1},
      {"t":2013,"lo":-6,"hi":5,"TCH":-1,"MEAN":0},{"t":2013.25,"lo":-4,"hi":6,"TCH":2,"MEAN":2},{"t":2013.5,"lo":-2,"hi":10,"TCH":8,"MEAN":9},{"t":2013.75,"lo":-6,"hi":5,"TCH":-1,"MEAN":0},
      {"t":2014,"lo":-4,"hi":6,"TCH":2,"MEAN":3}
    ],
    "O": [
      {"t":2003,"lo":-10,"hi":20,"ALL TCH":2,"ALL MEAN":2,"ALL TWS M":2,"ALL WM":2},
      {"t":2003.25,"lo":-8,"hi":20,"ALL TCH":8,"ALL MEAN":8,"ALL TWS M":7.5,"ALL WM":8.3},
      {"t":2003.5,"lo":-15,"hi":20,"ALL TCH":-0.5,"ALL MEAN":-1,"ALL TWS M":-1,"ALL WM":-1.5},
      {"t":2003.75,"lo":-17,"hi":20,"ALL TCH":-1.5,"ALL MEAN":-2.5,"ALL TWS M":-2.5,"ALL WM":-3},
      {"t":2004,"lo":-14,"hi":20,"ALL TCH":0,"ALL MEAN":0,"ALL TWS M":0,"ALL WM":0},
      {"t":2004.25,"lo":-7,"hi":20,"ALL TCH":7.5,"ALL MEAN":7.5,"ALL TWS M":7,"ALL WM":8},
      {"t":2004.5,"lo":-15,"hi":20,"ALL TCH":-2,"ALL MEAN":-2,"ALL TWS M":-2,"ALL WM":-2.5},
      {"t":2004.75,"lo":-14,"hi":20,"ALL TCH":-2.5,"ALL MEAN":-3,"ALL TWS M":-3,"ALL WM":-3.5},
      {"t":2005,"lo":-20,"hi":20,"ALL TCH":1,"ALL MEAN":1,"ALL TWS M":1,"ALL WM":1},
      {"t":2005.25,"lo":-14,"hi":20,"ALL TCH":7,"ALL MEAN":7,"ALL TWS M":6.5,"ALL WM":7.5},
      {"t":2005.5,"lo":-20,"hi":11,"ALL TCH":-2,"ALL MEAN":-2.5,"ALL TWS M":-2.5,"ALL WM":-3},
      {"t":2005.75,"lo":-20,"hi":12,"ALL TCH":-2.5,"ALL MEAN":-3,"ALL TWS M":-3,"ALL WM":-3.5},
      {"t":2006,"lo":-16,"hi":20,"ALL TCH":1,"ALL MEAN":1,"ALL TWS M":1,"ALL WM":1},
      {"t":2006.25,"lo":-15,"hi":20,"ALL TCH":7,"ALL MEAN":7,"ALL TWS M":6.5,"ALL WM":7.3},
      {"t":2006.5,"lo":-20,"hi":15,"ALL TCH":-2,"ALL MEAN":-2.5,"ALL TWS M":-2.5,"ALL WM":-3},
      {"t":2006.75,"lo":-20,"hi":10,"ALL TCH":-3,"ALL MEAN":-3.5,"ALL TWS M":-4,"ALL WM":-3.5},
      {"t":2007,"lo":-18,"hi":16,"ALL TCH":1,"ALL MEAN":1,"ALL TWS M":1,"ALL WM":1},
      {"t":2007.25,"lo":-16,"hi":20,"ALL TCH":6.5,"ALL MEAN":6.5,"ALL TWS M":6,"ALL WM":7},
      {"t":2007.5,"lo":-20,"hi":8,"ALL TCH":-3.5,"ALL MEAN":-3,"ALL TWS M":-3,"ALL WM":-3},
      {"t":2007.75,"lo":-20,"hi":8,"ALL TCH":-5,"ALL MEAN":-4,"ALL TWS M":-4,"ALL WM":-4},
      {"t":2008,"lo":-20,"hi":18,"ALL TCH":0,"ALL MEAN":0,"ALL TWS M":0,"ALL WM":0},
      {"t":2008.25,"lo":-16,"hi":20,"ALL TCH":6,"ALL MEAN":6,"ALL TWS M":5,"ALL WM":6.5},
      {"t":2008.5,"lo":-20,"hi":10,"ALL TCH":-2.5,"ALL MEAN":-3,"ALL TWS M":-3,"ALL WM":-3},
      {"t":2008.75,"lo":-20,"hi":11,"ALL TCH":-3.5,"ALL MEAN":-3.5,"ALL TWS M":-3.5,"ALL WM":-3.5},
      {"t":2009,"lo":-20,"hi":20,"ALL TCH":1,"ALL MEAN":1,"ALL TWS M":1,"ALL WM":1},
      {"t":2009.25,"lo":-18,"hi":20,"ALL TCH":6.5,"ALL MEAN":6.5,"ALL TWS M":5.5,"ALL WM":7},
      {"t":2009.5,"lo":-20,"hi":10,"ALL TCH":-3,"ALL MEAN":-3,"ALL TWS M":-3,"ALL WM":-3},
      {"t":2009.75,"lo":-20,"hi":12,"ALL TCH":-3.5,"ALL MEAN":-3.5,"ALL TWS M":-3.5,"ALL WM":-3.5},
      {"t":2010,"lo":-20,"hi":20,"ALL TCH":1,"ALL MEAN":1,"ALL TWS M":1,"ALL WM":1},
      {"t":2010.25,"lo":-16,"hi":20,"ALL TCH":6,"ALL MEAN":6,"ALL TWS M":5,"ALL WM":6.5},
      {"t":2010.5,"lo":-20,"hi":8,"ALL TCH":-3.5,"ALL MEAN":-3.5,"ALL TWS M":-3.5,"ALL WM":-3.5},
      {"t":2010.75,"lo":-20,"hi":10,"ALL TCH":-4,"ALL MEAN":-4,"ALL TWS M":-4,"ALL WM":-4},
      {"t":2011,"lo":-20,"hi":16,"ALL TCH":0,"ALL MEAN":0,"ALL TWS M":0,"ALL WM":0},
      {"t":2011.25,"lo":-18,"hi":20,"ALL TCH":6,"ALL MEAN":6,"ALL TWS M":5,"ALL WM":6.5},
      {"t":2011.5,"lo":-20,"hi":9,"ALL TCH":-3,"ALL MEAN":-3.5,"ALL TWS M":-3.5,"ALL WM":-3.5},
      {"t":2011.75,"lo":-20,"hi":12,"ALL TCH":-3.5,"ALL MEAN":-4,"ALL TWS M":-4,"ALL WM":-4},
      {"t":2012,"lo":-20,"hi":17,"ALL TCH":0,"ALL MEAN":0,"ALL TWS M":0,"ALL WM":0},
      {"t":2012.25,"lo":-18,"hi":20,"ALL TCH":5.5,"ALL MEAN":5.5,"ALL TWS M":4.5,"ALL WM":6},
      {"t":2012.5,"lo":-20,"hi":8,"ALL TCH":-3,"ALL MEAN":-3.5,"ALL TWS M":-3.5,"ALL WM":-3.5},
      {"t":2012.75,"lo":-20,"hi":6,"ALL TCH":-4,"ALL MEAN":-4.5,"ALL TWS M":-5,"ALL WM":-4.5},
      {"t":2013,"lo":-20,"hi":12,"ALL TCH":0,"ALL MEAN":0,"ALL TWS M":0,"ALL WM":0},
      {"t":2013.25,"lo":-20,"hi":15,"ALL TCH":5.5,"ALL MEAN":5.5,"ALL TWS M":5,"ALL WM":5.5},
      {"t":2013.5,"lo":-20,"hi":6,"ALL TCH":-3,"ALL MEAN":-3.5,"ALL TWS M":-3.5,"ALL WM":-3.5},
      {"t":2013.75,"lo":-20,"hi":5,"ALL TCH":-4,"ALL MEAN":-4.5,"ALL TWS M":-5,"ALL WM":-4.5},
      {"t":2014,"lo":-20,"hi":8,"ALL TCH":-1.5,"ALL MEAN":-1.5,"ALL TWS M":-1.5,"ALL WM":-1.5}
    ],
    "P": [
      {"t":2003,"lo":-20,"hi":20,"ALL TCH":0,"ALL MEAN":0,"ALL TWS M":0.5,"ALL WM":-0.5},
      {"t":2003.25,"lo":-20,"hi":20,"ALL TCH":0,"ALL MEAN":0,"ALL TWS M":0,"ALL WM":0},
      {"t":2003.5,"lo":-20,"hi":20,"ALL TCH":2.5,"ALL MEAN":2.5,"ALL TWS M":3,"ALL WM":2.5},
      {"t":2003.75,"lo":-14,"hi":20,"ALL TCH":-3,"ALL MEAN":-3.5,"ALL TWS M":-3.5,"ALL WM":-4},
      {"t":2004,"lo":-16,"hi":20,"ALL TCH":-1,"ALL MEAN":-1,"ALL TWS M":-1,"ALL WM":-1},
      {"t":2004.25,"lo":-20,"hi":13,"ALL TCH":3,"ALL MEAN":3,"ALL TWS M":3.5,"ALL WM":3},
      {"t":2004.5,"lo":-20,"hi":10,"ALL TCH":0,"ALL MEAN":0,"ALL TWS M":0,"ALL WM":0},
      {"t":2004.75,"lo":-18,"hi":20,"ALL TCH":-2,"ALL MEAN":-2,"ALL TWS M":-2,"ALL WM":-2.5},
      {"t":2005,"lo":-20,"hi":20,"ALL TCH":0,"ALL MEAN":0,"ALL TWS M":0,"ALL WM":0},
      {"t":2005.25,"lo":-20,"hi":20,"ALL TCH":1,"ALL MEAN":1,"ALL TWS M":1,"ALL WM":1},
      {"t":2005.5,"lo":-20,"hi":20,"ALL TCH":4,"ALL MEAN":4,"ALL TWS M":4.5,"ALL WM":4},
      {"t":2005.75,"lo":-20,"hi":16,"ALL TCH":-1,"ALL MEAN":-1,"ALL TWS M":-1,"ALL WM":-1.5},
      {"t":2006,"lo":-20,"hi":14,"ALL TCH":0,"ALL MEAN":0,"ALL TWS M":0,"ALL WM":0},
      {"t":2006.25,"lo":-20,"hi":12,"ALL TCH":2.5,"ALL MEAN":2.5,"ALL TWS M":2.5,"ALL WM":3},
      {"t":2006.5,"lo":-16,"hi":20,"ALL TCH":-2,"ALL MEAN":-2,"ALL TWS M":-2,"ALL WM":-2.5},
      {"t":2006.75,"lo":-20,"hi":10,"ALL TCH":-3,"ALL MEAN":-3,"ALL TWS M":-3,"ALL WM":-3.5},
      {"t":2007,"lo":-20,"hi":14,"ALL TCH":0,"ALL MEAN":0,"ALL TWS M":0,"ALL WM":0},
      {"t":2007.25,"lo":-20,"hi":20,"ALL TCH":1,"ALL MEAN":1,"ALL TWS M":1,"ALL WM":1},
      {"t":2007.5,"lo":-20,"hi":20,"ALL TCH":4,"ALL MEAN":3.5,"ALL TWS M":3.5,"ALL WM":3.5},
      {"t":2007.75,"lo":-20,"hi":12,"ALL TCH":-3,"ALL MEAN":-3,"ALL TWS M":-3,"ALL WM":-3},
      {"t":2008,"lo":-20,"hi":13,"ALL TCH":0,"ALL MEAN":0,"ALL TWS M":0,"ALL WM":0},
      {"t":2008.25,"lo":-20,"hi":10,"ALL TCH":0,"ALL MEAN":0,"ALL TWS M":0,"ALL WM":0},
      {"t":2008.5,"lo":-20,"hi":20,"ALL TCH":3.5,"ALL MEAN":3.5,"ALL TWS M":3.5,"ALL WM":3.5},
      {"t":2008.75,"lo":-20,"hi":16,"ALL TCH":-3,"ALL MEAN":-3,"ALL TWS M":-3,"ALL WM":-3.5},
      {"t":2009,"lo":-20,"hi":12,"ALL TCH":-0.5,"ALL MEAN":-1,"ALL TWS M":-1,"ALL WM":-1},
      {"t":2009.25,"lo":-20,"hi":10,"ALL TCH":0,"ALL MEAN":0,"ALL TWS M":0,"ALL WM":0},
      {"t":2009.5,"lo":-20,"hi":20,"ALL TCH":3,"ALL MEAN":3,"ALL TWS M":3,"ALL WM":3},
      {"t":2009.75,"lo":-20,"hi":14,"ALL TCH":-3,"ALL MEAN":-3,"ALL TWS M":-3,"ALL WM":-3.5},
      {"t":2010,"lo":-20,"hi":14,"ALL TCH":0,"ALL MEAN":-2,"ALL TWS M":-2,"ALL WM":-2},
      {"t":2010.25,"lo":-20,"hi":10,"ALL TCH":2,"ALL MEAN":1,"ALL TWS M":0.5,"ALL WM":1},
      {"t":2010.5,"lo":-20,"hi":20,"ALL TCH":3.5,"ALL MEAN":3.5,"ALL TWS M":3.5,"ALL WM":3.5},
      {"t":2010.75,"lo":-20,"hi":20,"ALL TCH":-2,"ALL MEAN":-2,"ALL TWS M":-2,"ALL WM":-2},
      {"t":2011,"lo":-20,"hi":14,"ALL TCH":1,"ALL MEAN":1,"ALL TWS M":1,"ALL WM":1},
      {"t":2011.25,"lo":-20,"hi":12,"ALL TCH":1.5,"ALL MEAN":1.5,"ALL TWS M":1,"ALL WM":2},
      {"t":2011.5,"lo":-20,"hi":20,"ALL TCH":4,"ALL MEAN":4,"ALL TWS M":4,"ALL WM":4.5},
      {"t":2011.75,"lo":-20,"hi":18,"ALL TCH":-1,"ALL MEAN":-1,"ALL TWS M":-1,"ALL WM":-1},
      {"t":2012,"lo":-20,"hi":20,"ALL TCH":0,"ALL MEAN":0,"ALL TWS M":0,"ALL WM":0.5},
      {"t":2012.25,"lo":-20,"hi":14,"ALL TCH":1,"ALL MEAN":1,"ALL TWS M":1,"ALL WM":1.5},
      {"t":2012.5,"lo":-20,"hi":20,"ALL TCH":4,"ALL MEAN":4,"ALL TWS M":4,"ALL WM":4},
      {"t":2012.75,"lo":-20,"hi":10,"ALL TCH":-2,"ALL MEAN":-2,"ALL TWS M":-2.5,"ALL WM":-2},
      {"t":2013,"lo":-20,"hi":12,"ALL TCH":-1,"ALL MEAN":-1,"ALL TWS M":-1,"ALL WM":-1},
      {"t":2013.25,"lo":-20,"hi":20,"ALL TCH":1,"ALL MEAN":1,"ALL TWS M":1,"ALL WM":1},
      {"t":2013.5,"lo":-20,"hi":20,"ALL TCH":4,"ALL MEAN":3.5,"ALL TWS M":4,"ALL WM":4.5},
      {"t":2013.75,"lo":-20,"hi":14,"ALL TCH":-2,"ALL MEAN":-2,"ALL TWS M":-2.5,"ALL WM":-2},
      {"t":2014,"lo":-20,"hi":20,"ALL TCH":0,"ALL MEAN":0,"ALL TWS M":0,"ALL WM":0}
    ],
    "Q": [
      {"t":2003,"v":0},{"t":2003.2,"v":4.5},{"t":2003.35,"v":0},{"t":2003.5,"v":-4},{"t":2003.8,"v":-6},{"t":2004,"v":-4},{"t":2004.15,"v":-3},
      {"t":2004.3,"v":6},{"t":2004.4,"v":0},{"t":2004.55,"v":-2},{"t":2004.75,"v":-7},{"t":2004.95,"v":-5},{"t":2005.1,"v":-1},{"t":2005.25,"v":2.5},
      {"t":2005.4,"v":-3},{"t":2005.55,"v":-6},{"t":2005.75,"v":-11.5},{"t":2005.9,"v":-7},{"t":2006.1,"v":5},{"t":2006.25,"v":7},{"t":2006.45,"v":0},
      {"t":2006.6,"v":-1},{"t":2006.75,"v":1},{"t":2006.9,"v":5},{"t":2007.05,"v":9},{"t":2007.2,"v":14.5},{"t":2007.3,"v":4},{"t":2007.45,"v":5.5},
      {"t":2007.65,"v":5.5},{"t":2007.8,"v":4.5},{"t":2007.95,"v":7},{"t":2008.1,"v":7},{"t":2008.2,"v":9.5},{"t":2008.35,"v":-2},{"t":2008.5,"v":-1},
      {"t":2008.7,"v":-4},{"t":2008.85,"v":2},{"t":2009.05,"v":10},{"t":2009.2,"v":8},{"t":2009.35,"v":-3},{"t":2009.6,"v":-12.5},{"t":2009.75,"v":-9},
      {"t":2009.9,"v":-2},{"t":2010.05,"v":-1},{"t":2010.15,"v":0},{"t":2010.3,"v":-10},{"t":2010.45,"v":-11},{"t":2010.6,"v":-12},{"t":2010.75,"v":-8},
      {"t":2010.9,"v":-2},{"t":2011.05,"v":1},{"t":2011.25,"v":4.5},{"t":2011.4,"v":-2},{"t":2011.55,"v":-1},{"t":2011.75,"v":-5},{"t":2011.9,"v":9},
      {"t":2012.05,"v":4},{"t":2012.25,"v":1},{"t":2012.45,"v":-3},{"t":2012.6,"v":-1},{"t":2012.75,"v":3},{"t":2012.95,"v":7},{"t":2013.1,"v":12.5},
      {"t":2013.25,"v":2},{"t":2013.45,"v":-1},{"t":2013.65,"v":-4},{"t":2013.85,"v":-6.5},{"t":2014,"v":0}
    ],
    "R": [
      {"t":2003,"v":8},{"t":2003.1,"v":10},{"t":2003.3,"v":11.5},{"t":2003.45,"v":7},{"t":2003.6,"v":-15},{"t":2003.7,"v":-25},{"t":2003.85,"v":-22},
      {"t":2004,"v":-5},{"t":2004.25,"v":9.5},{"t":2004.4,"v":7},{"t":2004.6,"v":-12},{"t":2004.75,"v":-9},{"t":2004.95,"v":-5},{"t":2005.15,"v":5},
      {"t":2005.35,"v":12},{"t":2005.5,"v":0},{"t":2005.6,"v":-10},{"t":2005.75,"v":-7},{"t":2005.95,"v":0},{"t":2006.2,"v":10.5},{"t":2006.35,"v":7},
      {"t":2006.55,"v":-14},{"t":2006.65,"v":-16.5},{"t":2006.85,"v":-8},{"t":2007,"v":-4},{"t":2007.1,"v":12},{"t":2007.25,"v":19},{"t":2007.4,"v":8},
      {"t":2007.55,"v":-7.5},{"t":2007.7,"v":-3},{"t":2007.9,"v":5},{"t":2008.05,"v":13.5},{"t":2008.2,"v":10},{"t":2008.35,"v":-5},{"t":2008.55,"v":-25},
      {"t":2008.8,"v":-18},{"t":2008.95,"v":-14},{"t":2009.1,"v":-5},{"t":2009.2,"v":0.5},{"t":2009.3,"v":-1},{"t":2009.45,"v":-15},{"t":2009.6,"v":-25},
      {"t":2009.8,"v":-20},{"t":2009.95,"v":-10},{"t":2010.15,"v":3},{"t":2010.3,"v":2},{"t":2010.5,"v":-12},{"t":2010.65,"v":-18},{"t":2010.8,"v":-10},
      {"t":2011,"v":2},{"t":2011.2,"v":12},{"t":2011.35,"v":3},{"t":2011.55,"v":-10},{"t":2011.7,"v":-6},{"t":2011.85,"v":5},{"t":2012,"v":13},
      {"t":2012.15,"v":22},{"t":2012.3,"v":21},{"t":2012.45,"v":5},{"t":2012.6,"v":-5},{"t":2012.7,"v":-7},{"t":2012.85,"v":3},{"t":2013,"v":13},
      {"t":2013.15,"v":19},{"t":2013.35,"v":20},{"t":2013.5,"v":5},{"t":2013.6,"v":-2.5},{"t":2013.8,"v":5},{"t":2014,"v":15}
    ]
  },
  "concat": [
    {"title": "ACCESS", "width": 315, "height": 99, "data": {"name": "A"}, "resolve": {"axis": {"x": "independent"}}, "layer": [
      {"mark": {"type": "area", "clip": true}, "encoding": {"x": {"field": "t", "type": "quantitative", "scale": {"domain": [2003, 2014], "nice": false, "zero": false}, "axis": {"orient": "bottom", "title": "Time (year)", "values": [2004, 2006, 2008, 2010, 2012, 2014], "format": "d"}}, "y": {"field": "lo", "type": "quantitative", "scale": {"domain": [-20, 20], "nice": false}, "axis": {"title": "χ₁ (mas)", "values": [-20, -10, 0, 10, 20]}}, "y2": {"field": "hi"}, "color": {"datum": "range", "type": "nominal", "title": null, "scale": {"domain": ["range", "TCH", "MEAN"], "range": ["#b3b3b3", "#ff0000", "#0000ff"]}, "legend": {"title": null, "orient": "bottom-right", "direction": "horizontal", "encode": {"symbols": {"update": {"shape": {"signal": "datum.value === 'range' ? 'M-1,-0.6H1V0.6H-1Z' : 'stroke'"}, "fill": {"signal": "datum.value === 'range' ? '#b3b3b3' : 'transparent'"}, "stroke": {"signal": "datum.value === 'range' ? 'transparent' : (datum.value === 'MEAN' || datum.value === 'ALL MEAN') ? '#0000ff' : datum.value === 'ALL TCH' ? '#000000' : datum.value === 'ALL TWS M' ? '#00ff00' : '#ff0000'"}}}}}}}},
      {"transform": [{"fold": ["TCH", "MEAN"], "as": ["series", "v"]}], "mark": {"type": "line", "clip": true, "strokeWidth": 1}, "encoding": {"x": {"field": "t", "type": "quantitative", "axis": {"orient": "top", "title": "A"}}, "y": {"field": "v", "type": "quantitative", "axis": {"title": "χ₁ (mas)", "values": [-20, -10, 0, 10, 20]}}, "color": {"field": "series", "type": "nominal", "title": null}}}
    ]},
    {"title": "ACCESS", "width": 315, "height": 99, "data": {"name": "B"}, "resolve": {"axis": {"x": "independent"}}, "layer": [
      {"mark": {"type": "area", "clip": true}, "encoding": {"x": {"field": "t", "type": "quantitative", "scale": {"domain": [2003, 2014], "nice": false, "zero": false}, "axis": {"orient": "bottom", "title": "Time (year)", "values": [2004, 2006, 2008, 2010, 2012, 2014], "format": "d"}}, "y": {"field": "lo", "type": "quantitative", "scale": {"domain": [-20, 20], "nice": false}, "axis": {"title": "χ₂ (mas)", "values": [-20, -10, 0, 10, 20]}}, "y2": {"field": "hi"}, "color": {"datum": "range", "type": "nominal", "title": null, "scale": {"domain": ["range", "TCH", "MEAN"], "range": ["#b3b3b3", "#ff0000", "#0000ff"]}, "legend": {"title": null, "orient": "bottom-right", "direction": "horizontal", "encode": {"symbols": {"update": {"shape": {"signal": "datum.value === 'range' ? 'M-1,-0.6H1V0.6H-1Z' : 'stroke'"}, "fill": {"signal": "datum.value === 'range' ? '#b3b3b3' : 'transparent'"}, "stroke": {"signal": "datum.value === 'range' ? 'transparent' : (datum.value === 'MEAN' || datum.value === 'ALL MEAN') ? '#0000ff' : datum.value === 'ALL TCH' ? '#000000' : datum.value === 'ALL TWS M' ? '#00ff00' : '#ff0000'"}}}}}}}},
      {"transform": [{"fold": ["TCH", "MEAN"], "as": ["series", "v"]}], "mark": {"type": "line", "clip": true, "strokeWidth": 1}, "encoding": {"x": {"field": "t", "type": "quantitative", "axis": {"orient": "top", "title": "B"}}, "y": {"field": "v", "type": "quantitative", "axis": {"title": "χ₂ (mas)", "values": [-20, -10, 0, 10, 20]}}, "color": {"field": "series", "type": "nominal", "title": null}}}
    ]},
    {"title": "BCC", "width": 315, "height": 99, "data": {"name": "C"}, "resolve": {"axis": {"x": "independent"}}, "layer": [
      {"mark": {"type": "area", "clip": true}, "encoding": {"x": {"field": "t", "type": "quantitative", "scale": {"domain": [2003, 2014], "nice": false, "zero": false}, "axis": {"orient": "bottom", "title": "Time (year)", "values": [2004, 2006, 2008, 2010, 2012, 2014], "format": "d"}}, "y": {"field": "lo", "type": "quantitative", "scale": {"domain": [-20, 20], "nice": false}, "axis": {"title": "χ₁ (mas)", "values": [-20, -10, 0, 10, 20]}}, "y2": {"field": "hi"}, "color": {"datum": "range", "type": "nominal", "title": null, "scale": {"domain": ["range", "TCH", "MEAN"], "range": ["#b3b3b3", "#ff0000", "#0000ff"]}, "legend": {"title": null, "orient": "bottom-right", "direction": "horizontal", "encode": {"symbols": {"update": {"shape": {"signal": "datum.value === 'range' ? 'M-1,-0.6H1V0.6H-1Z' : 'stroke'"}, "fill": {"signal": "datum.value === 'range' ? '#b3b3b3' : 'transparent'"}, "stroke": {"signal": "datum.value === 'range' ? 'transparent' : (datum.value === 'MEAN' || datum.value === 'ALL MEAN') ? '#0000ff' : datum.value === 'ALL TCH' ? '#000000' : datum.value === 'ALL TWS M' ? '#00ff00' : '#ff0000'"}}}}}}}},
      {"transform": [{"fold": ["TCH", "MEAN"], "as": ["series", "v"]}], "mark": {"type": "line", "clip": true, "strokeWidth": 1}, "encoding": {"x": {"field": "t", "type": "quantitative", "axis": {"orient": "top", "title": "C"}}, "y": {"field": "v", "type": "quantitative", "axis": {"title": "χ₁ (mas)", "values": [-20, -10, 0, 10, 20]}}, "color": {"field": "series", "type": "nominal", "title": null}}}
    ]},
    {"title": "BCC", "width": 315, "height": 99, "data": {"name": "D"}, "resolve": {"axis": {"x": "independent"}}, "layer": [
      {"mark": {"type": "area", "clip": true}, "encoding": {"x": {"field": "t", "type": "quantitative", "scale": {"domain": [2003, 2014], "nice": false, "zero": false}, "axis": {"orient": "bottom", "title": "Time (year)", "values": [2004, 2006, 2008, 2010, 2012, 2014], "format": "d"}}, "y": {"field": "lo", "type": "quantitative", "scale": {"domain": [-20, 20], "nice": false}, "axis": {"title": "χ₂ (mas)", "values": [-20, -10, 0, 10, 20]}}, "y2": {"field": "hi"}, "color": {"datum": "range", "type": "nominal", "title": null, "scale": {"domain": ["range", "TCH", "MEAN"], "range": ["#b3b3b3", "#ff0000", "#0000ff"]}, "legend": {"title": null, "orient": "bottom-right", "direction": "horizontal", "encode": {"symbols": {"update": {"shape": {"signal": "datum.value === 'range' ? 'M-1,-0.6H1V0.6H-1Z' : 'stroke'"}, "fill": {"signal": "datum.value === 'range' ? '#b3b3b3' : 'transparent'"}, "stroke": {"signal": "datum.value === 'range' ? 'transparent' : (datum.value === 'MEAN' || datum.value === 'ALL MEAN') ? '#0000ff' : datum.value === 'ALL TCH' ? '#000000' : datum.value === 'ALL TWS M' ? '#00ff00' : '#ff0000'"}}}}}}}},
      {"transform": [{"fold": ["TCH", "MEAN"], "as": ["series", "v"]}], "mark": {"type": "line", "clip": true, "strokeWidth": 1}, "encoding": {"x": {"field": "t", "type": "quantitative", "axis": {"orient": "top", "title": "D"}}, "y": {"field": "v", "type": "quantitative", "axis": {"title": "χ₂ (mas)", "values": [-20, -10, 0, 10, 20]}}, "color": {"field": "series", "type": "nominal", "title": null}}}
    ]},
    {"title": "CanESM5", "width": 315, "height": 99, "data": {"name": "E"}, "resolve": {"axis": {"x": "independent"}}, "layer": [
      {"mark": {"type": "area", "clip": true}, "encoding": {"x": {"field": "t", "type": "quantitative", "scale": {"domain": [2003, 2014], "nice": false, "zero": false}, "axis": {"orient": "bottom", "title": "Time (year)", "values": [2004, 2006, 2008, 2010, 2012, 2014], "format": "d"}}, "y": {"field": "lo", "type": "quantitative", "scale": {"domain": [-20, 20], "nice": false}, "axis": {"title": "χ₁ (mas)", "values": [-20, -10, 0, 10, 20]}}, "y2": {"field": "hi"}, "color": {"datum": "range", "type": "nominal", "title": null, "scale": {"domain": ["range", "TCH", "MEAN"], "range": ["#b3b3b3", "#ff0000", "#0000ff"]}, "legend": {"title": null, "orient": "bottom-right", "direction": "horizontal", "encode": {"symbols": {"update": {"shape": {"signal": "datum.value === 'range' ? 'M-1,-0.6H1V0.6H-1Z' : 'stroke'"}, "fill": {"signal": "datum.value === 'range' ? '#b3b3b3' : 'transparent'"}, "stroke": {"signal": "datum.value === 'range' ? 'transparent' : (datum.value === 'MEAN' || datum.value === 'ALL MEAN') ? '#0000ff' : datum.value === 'ALL TCH' ? '#000000' : datum.value === 'ALL TWS M' ? '#00ff00' : '#ff0000'"}}}}}}}},
      {"transform": [{"fold": ["TCH", "MEAN"], "as": ["series", "v"]}], "mark": {"type": "line", "clip": true, "strokeWidth": 1}, "encoding": {"x": {"field": "t", "type": "quantitative", "axis": {"orient": "top", "title": "E"}}, "y": {"field": "v", "type": "quantitative", "axis": {"title": "χ₁ (mas)", "values": [-20, -10, 0, 10, 20]}}, "color": {"field": "series", "type": "nominal", "title": null}}}
    ]},
    {"title": "CanESM5", "width": 315, "height": 99, "data": {"name": "F"}, "resolve": {"axis": {"x": "independent"}}, "layer": [
      {"mark": {"type": "area", "clip": true}, "encoding": {"x": {"field": "t", "type": "quantitative", "scale": {"domain": [2003, 2014], "nice": false, "zero": false}, "axis": {"orient": "bottom", "title": "Time (year)", "values": [2004, 2006, 2008, 2010, 2012, 2014], "format": "d"}}, "y": {"field": "lo", "type": "quantitative", "scale": {"domain": [-20, 20], "nice": false}, "axis": {"title": "χ₂ (mas)", "values": [-20, -10, 0, 10, 20]}}, "y2": {"field": "hi"}, "color": {"datum": "range", "type": "nominal", "title": null, "scale": {"domain": ["range", "TCH", "MEAN"], "range": ["#b3b3b3", "#ff0000", "#0000ff"]}, "legend": {"title": null, "orient": "bottom-right", "direction": "horizontal", "encode": {"symbols": {"update": {"shape": {"signal": "datum.value === 'range' ? 'M-1,-0.6H1V0.6H-1Z' : 'stroke'"}, "fill": {"signal": "datum.value === 'range' ? '#b3b3b3' : 'transparent'"}, "stroke": {"signal": "datum.value === 'range' ? 'transparent' : (datum.value === 'MEAN' || datum.value === 'ALL MEAN') ? '#0000ff' : datum.value === 'ALL TCH' ? '#000000' : datum.value === 'ALL TWS M' ? '#00ff00' : '#ff0000'"}}}}}}}},
      {"transform": [{"fold": ["TCH", "MEAN"], "as": ["series", "v"]}], "mark": {"type": "line", "clip": true, "strokeWidth": 1}, "encoding": {"x": {"field": "t", "type": "quantitative", "axis": {"orient": "top", "title": "F"}}, "y": {"field": "v", "type": "quantitative", "axis": {"title": "χ₂ (mas)", "values": [-20, -10, 0, 10, 20]}}, "color": {"field": "series", "type": "nominal", "title": null}}}
    ]},
    {"title": "GISS", "width": 315, "height": 99, "data": {"name": "G"}, "resolve": {"axis": {"x": "independent"}}, "layer": [
      {"mark": {"type": "area", "clip": true}, "encoding": {"x": {"field": "t", "type": "quantitative", "scale": {"domain": [2003, 2014], "nice": false, "zero": false}, "axis": {"orient": "bottom", "title": "Time (year)", "values": [2004, 2006, 2008, 2010, 2012, 2014], "format": "d"}}, "y": {"field": "lo", "type": "quantitative", "scale": {"domain": [-20, 20], "nice": false}, "axis": {"title": "χ₁ (mas)", "values": [-20, -10, 0, 10, 20]}}, "y2": {"field": "hi"}, "color": {"datum": "range", "type": "nominal", "title": null, "scale": {"domain": ["range", "TCH", "MEAN"], "range": ["#b3b3b3", "#ff0000", "#0000ff"]}, "legend": {"title": null, "orient": "bottom-right", "direction": "horizontal", "encode": {"symbols": {"update": {"shape": {"signal": "datum.value === 'range' ? 'M-1,-0.6H1V0.6H-1Z' : 'stroke'"}, "fill": {"signal": "datum.value === 'range' ? '#b3b3b3' : 'transparent'"}, "stroke": {"signal": "datum.value === 'range' ? 'transparent' : (datum.value === 'MEAN' || datum.value === 'ALL MEAN') ? '#0000ff' : datum.value === 'ALL TCH' ? '#000000' : datum.value === 'ALL TWS M' ? '#00ff00' : '#ff0000'"}}}}}}}},
      {"transform": [{"fold": ["TCH", "MEAN"], "as": ["series", "v"]}], "mark": {"type": "line", "clip": true, "strokeWidth": 1}, "encoding": {"x": {"field": "t", "type": "quantitative", "axis": {"orient": "top", "title": "G"}}, "y": {"field": "v", "type": "quantitative", "axis": {"title": "χ₁ (mas)", "values": [-20, -10, 0, 10, 20]}}, "color": {"field": "series", "type": "nominal", "title": null}}}
    ]},
    {"title": "GISS", "width": 315, "height": 99, "data": {"name": "H"}, "resolve": {"axis": {"x": "independent"}}, "layer": [
      {"mark": {"type": "area", "clip": true}, "encoding": {"x": {"field": "t", "type": "quantitative", "scale": {"domain": [2003, 2014], "nice": false, "zero": false}, "axis": {"orient": "bottom", "title": "Time (year)", "values": [2004, 2006, 2008, 2010, 2012, 2014], "format": "d"}}, "y": {"field": "lo", "type": "quantitative", "scale": {"domain": [-20, 20], "nice": false}, "axis": {"title": "χ₂ (mas)", "values": [-20, -10, 0, 10, 20]}}, "y2": {"field": "hi"}, "color": {"datum": "range", "type": "nominal", "title": null, "scale": {"domain": ["range", "TCH", "MEAN"], "range": ["#b3b3b3", "#ff0000", "#0000ff"]}, "legend": {"title": null, "orient": "bottom-right", "direction": "horizontal", "encode": {"symbols": {"update": {"shape": {"signal": "datum.value === 'range' ? 'M-1,-0.6H1V0.6H-1Z' : 'stroke'"}, "fill": {"signal": "datum.value === 'range' ? '#b3b3b3' : 'transparent'"}, "stroke": {"signal": "datum.value === 'range' ? 'transparent' : (datum.value === 'MEAN' || datum.value === 'ALL MEAN') ? '#0000ff' : datum.value === 'ALL TCH' ? '#000000' : datum.value === 'ALL TWS M' ? '#00ff00' : '#ff0000'"}}}}}}}},
      {"transform": [{"fold": ["TCH", "MEAN"], "as": ["series", "v"]}], "mark": {"type": "line", "clip": true, "strokeWidth": 1}, "encoding": {"x": {"field": "t", "type": "quantitative", "axis": {"orient": "top", "title": "H"}}, "y": {"field": "v", "type": "quantitative", "axis": {"title": "χ₂ (mas)", "values": [-20, -10, 0, 10, 20]}}, "color": {"field": "series", "type": "nominal", "title": null}}}
    ]},
    {"title": "MIROC", "width": 315, "height": 99, "data": {"name": "I"}, "resolve": {"axis": {"x": "independent"}}, "layer": [
      {"mark": {"type": "area", "clip": true}, "encoding": {"x": {"field": "t", "type": "quantitative", "scale": {"domain": [2003, 2014], "nice": false, "zero": false}, "axis": {"orient": "bottom", "title": "Time (year)", "values": [2004, 2006, 2008, 2010, 2012, 2014], "format": "d"}}, "y": {"field": "lo", "type": "quantitative", "scale": {"domain": [-20, 20], "nice": false}, "axis": {"title": "χ₁ (mas)", "values": [-20, -10, 0, 10, 20]}}, "y2": {"field": "hi"}, "color": {"datum": "range", "type": "nominal", "title": null, "scale": {"domain": ["range", "TCH", "MEAN"], "range": ["#b3b3b3", "#ff0000", "#0000ff"]}, "legend": {"title": null, "orient": "bottom-right", "direction": "horizontal", "encode": {"symbols": {"update": {"shape": {"signal": "datum.value === 'range' ? 'M-1,-0.6H1V0.6H-1Z' : 'stroke'"}, "fill": {"signal": "datum.value === 'range' ? '#b3b3b3' : 'transparent'"}, "stroke": {"signal": "datum.value === 'range' ? 'transparent' : (datum.value === 'MEAN' || datum.value === 'ALL MEAN') ? '#0000ff' : datum.value === 'ALL TCH' ? '#000000' : datum.value === 'ALL TWS M' ? '#00ff00' : '#ff0000'"}}}}}}}},
      {"transform": [{"fold": ["TCH", "MEAN"], "as": ["series", "v"]}], "mark": {"type": "line", "clip": true, "strokeWidth": 1}, "encoding": {"x": {"field": "t", "type": "quantitative", "axis": {"orient": "top", "title": "I"}}, "y": {"field": "v", "type": "quantitative", "axis": {"title": "χ₁ (mas)", "values": [-20, -10, 0, 10, 20]}}, "color": {"field": "series", "type": "nominal", "title": null}}}
    ]},
    {"title": "MIROC", "width": 315, "height": 99, "data": {"name": "J"}, "resolve": {"axis": {"x": "independent"}}, "layer": [
      {"mark": {"type": "area", "clip": true}, "encoding": {"x": {"field": "t", "type": "quantitative", "scale": {"domain": [2003, 2014], "nice": false, "zero": false}, "axis": {"orient": "bottom", "title": "Time (year)", "values": [2004, 2006, 2008, 2010, 2012, 2014], "format": "d"}}, "y": {"field": "lo", "type": "quantitative", "scale": {"domain": [-20, 20], "nice": false}, "axis": {"title": "χ₂ (mas)", "values": [-20, -10, 0, 10, 20]}}, "y2": {"field": "hi"}, "color": {"datum": "range", "type": "nominal", "title": null, "scale": {"domain": ["range", "TCH", "MEAN"], "range": ["#b3b3b3", "#ff0000", "#0000ff"]}, "legend": {"title": null, "orient": "bottom-right", "direction": "horizontal", "encode": {"symbols": {"update": {"shape": {"signal": "datum.value === 'range' ? 'M-1,-0.6H1V0.6H-1Z' : 'stroke'"}, "fill": {"signal": "datum.value === 'range' ? '#b3b3b3' : 'transparent'"}, "stroke": {"signal": "datum.value === 'range' ? 'transparent' : (datum.value === 'MEAN' || datum.value === 'ALL MEAN') ? '#0000ff' : datum.value === 'ALL TCH' ? '#000000' : datum.value === 'ALL TWS M' ? '#00ff00' : '#ff0000'"}}}}}}}},
      {"transform": [{"fold": ["TCH", "MEAN"], "as": ["series", "v"]}], "mark": {"type": "line", "clip": true, "strokeWidth": 1}, "encoding": {"x": {"field": "t", "type": "quantitative", "axis": {"orient": "top", "title": "J"}}, "y": {"field": "v", "type": "quantitative", "axis": {"title": "χ₂ (mas)", "values": [-20, -10, 0, 10, 20]}}, "color": {"field": "series", "type": "nominal", "title": null}}}
    ]},
    {"title": "MPI", "width": 315, "height": 99, "data": {"name": "K"}, "resolve": {"axis": {"x": "independent"}}, "layer": [
      {"mark": {"type": "area", "clip": true}, "encoding": {"x": {"field": "t", "type": "quantitative", "scale": {"domain": [2003, 2014], "nice": false, "zero": false}, "axis": {"orient": "bottom", "title": "Time (year)", "values": [2004, 2006, 2008, 2010, 2012, 2014], "format": "d"}}, "y": {"field": "lo", "type": "quantitative", "scale": {"domain": [-20, 20], "nice": false}, "axis": {"title": "χ₁ (mas)", "values": [-20, -10, 0, 10, 20]}}, "y2": {"field": "hi"}, "color": {"datum": "range", "type": "nominal", "title": null, "scale": {"domain": ["range", "TCH", "MEAN"], "range": ["#b3b3b3", "#ff0000", "#0000ff"]}, "legend": {"title": null, "orient": "bottom-right", "direction": "horizontal", "encode": {"symbols": {"update": {"shape": {"signal": "datum.value === 'range' ? 'M-1,-0.6H1V0.6H-1Z' : 'stroke'"}, "fill": {"signal": "datum.value === 'range' ? '#b3b3b3' : 'transparent'"}, "stroke": {"signal": "datum.value === 'range' ? 'transparent' : (datum.value === 'MEAN' || datum.value === 'ALL MEAN') ? '#0000ff' : datum.value === 'ALL TCH' ? '#000000' : datum.value === 'ALL TWS M' ? '#00ff00' : '#ff0000'"}}}}}}}},
      {"transform": [{"fold": ["TCH", "MEAN"], "as": ["series", "v"]}], "mark": {"type": "line", "clip": true, "strokeWidth": 1}, "encoding": {"x": {"field": "t", "type": "quantitative", "axis": {"orient": "top", "title": "K"}}, "y": {"field": "v", "type": "quantitative", "axis": {"title": "χ₁ (mas)", "values": [-20, -10, 0, 10, 20]}}, "color": {"field": "series", "type": "nominal", "title": null}}}
    ]},
    {"title": "MPI", "width": 315, "height": 99, "data": {"name": "L"}, "resolve": {"axis": {"x": "independent"}}, "layer": [
      {"mark": {"type": "area", "clip": true}, "encoding": {"x": {"field": "t", "type": "quantitative", "scale": {"domain": [2003, 2014], "nice": false, "zero": false}, "axis": {"orient": "bottom", "title": "Time (year)", "values": [2004, 2006, 2008, 2010, 2012, 2014], "format": "d"}}, "y": {"field": "lo", "type": "quantitative", "scale": {"domain": [-20, 20], "nice": false}, "axis": {"title": "χ₂ (mas)", "values": [-20, -10, 0, 10, 20]}}, "y2": {"field": "hi"}, "color": {"datum": "range", "type": "nominal", "title": null, "scale": {"domain": ["range", "TCH", "MEAN"], "range": ["#b3b3b3", "#ff0000", "#0000ff"]}, "legend": {"title": null, "orient": "bottom-right", "direction": "horizontal", "encode": {"symbols": {"update": {"shape": {"signal": "datum.value === 'range' ? 'M-1,-0.6H1V0.6H-1Z' : 'stroke'"}, "fill": {"signal": "datum.value === 'range' ? '#b3b3b3' : 'transparent'"}, "stroke": {"signal": "datum.value === 'range' ? 'transparent' : (datum.value === 'MEAN' || datum.value === 'ALL MEAN') ? '#0000ff' : datum.value === 'ALL TCH' ? '#000000' : datum.value === 'ALL TWS M' ? '#00ff00' : '#ff0000'"}}}}}}}},
      {"transform": [{"fold": ["TCH", "MEAN"], "as": ["series", "v"]}], "mark": {"type": "line", "clip": true, "strokeWidth": 1}, "encoding": {"x": {"field": "t", "type": "quantitative", "axis": {"orient": "top", "title": "L"}}, "y": {"field": "v", "type": "quantitative", "axis": {"title": "χ₂ (mas)", "values": [-20, -10, 0, 10, 20]}}, "color": {"field": "series", "type": "nominal", "title": null}}}
    ]},
    {"title": "MRI", "width": 315, "height": 99, "data": {"name": "M"}, "resolve": {"axis": {"x": "independent"}}, "layer": [
      {"mark": {"type": "area", "clip": true}, "encoding": {"x": {"field": "t", "type": "quantitative", "scale": {"domain": [2003, 2014], "nice": false, "zero": false}, "axis": {"orient": "bottom", "title": "Time (year)", "values": [2004, 2006, 2008, 2010, 2012, 2014], "format": "d"}}, "y": {"field": "lo", "type": "quantitative", "scale": {"domain": [-20, 20], "nice": false}, "axis": {"title": "χ₁ (mas)", "values": [-20, -10, 0, 10, 20]}}, "y2": {"field": "hi"}, "color": {"datum": "range", "type": "nominal", "title": null, "scale": {"domain": ["range", "TCH", "MEAN"], "range": ["#b3b3b3", "#ff0000", "#0000ff"]}, "legend": {"title": null, "orient": "bottom-right", "direction": "horizontal", "encode": {"symbols": {"update": {"shape": {"signal": "datum.value === 'range' ? 'M-1,-0.6H1V0.6H-1Z' : 'stroke'"}, "fill": {"signal": "datum.value === 'range' ? '#b3b3b3' : 'transparent'"}, "stroke": {"signal": "datum.value === 'range' ? 'transparent' : (datum.value === 'MEAN' || datum.value === 'ALL MEAN') ? '#0000ff' : datum.value === 'ALL TCH' ? '#000000' : datum.value === 'ALL TWS M' ? '#00ff00' : '#ff0000'"}}}}}}}},
      {"transform": [{"fold": ["TCH", "MEAN"], "as": ["series", "v"]}], "mark": {"type": "line", "clip": true, "strokeWidth": 1}, "encoding": {"x": {"field": "t", "type": "quantitative", "axis": {"orient": "top", "title": "M"}}, "y": {"field": "v", "type": "quantitative", "axis": {"title": "χ₁ (mas)", "values": [-20, -10, 0, 10, 20]}}, "color": {"field": "series", "type": "nominal", "title": null}}}
    ]},
    {"title": "MRI", "width": 315, "height": 99, "data": {"name": "N"}, "resolve": {"axis": {"x": "independent"}}, "layer": [
      {"mark": {"type": "area", "clip": true}, "encoding": {"x": {"field": "t", "type": "quantitative", "scale": {"domain": [2003, 2014], "nice": false, "zero": false}, "axis": {"orient": "bottom", "title": "Time (year)", "values": [2004, 2006, 2008, 2010, 2012, 2014], "format": "d"}}, "y": {"field": "lo", "type": "quantitative", "scale": {"domain": [-20, 20], "nice": false}, "axis": {"title": "χ₂ (mas)", "values": [-20, -10, 0, 10, 20]}}, "y2": {"field": "hi"}, "color": {"datum": "range", "type": "nominal", "title": null, "scale": {"domain": ["range", "TCH", "MEAN"], "range": ["#b3b3b3", "#ff0000", "#0000ff"]}, "legend": {"title": null, "orient": "bottom-right", "direction": "horizontal", "encode": {"symbols": {"update": {"shape": {"signal": "datum.value === 'range' ? 'M-1,-0.6H1V0.6H-1Z' : 'stroke'"}, "fill": {"signal": "datum.value === 'range' ? '#b3b3b3' : 'transparent'"}, "stroke": {"signal": "datum.value === 'range' ? 'transparent' : (datum.value === 'MEAN' || datum.value === 'ALL MEAN') ? '#0000ff' : datum.value === 'ALL TCH' ? '#000000' : datum.value === 'ALL TWS M' ? '#00ff00' : '#ff0000'"}}}}}}}},
      {"transform": [{"fold": ["TCH", "MEAN"], "as": ["series", "v"]}], "mark": {"type": "line", "clip": true, "strokeWidth": 1}, "encoding": {"x": {"field": "t", "type": "quantitative", "axis": {"orient": "top", "title": "N"}}, "y": {"field": "v", "type": "quantitative", "axis": {"title": "χ₂ (mas)", "values": [-20, -10, 0, 10, 20]}}, "color": {"field": "series", "type": "nominal", "title": null}}}
    ]},
    {"title": "ALL", "width": 315, "height": 99, "data": {"name": "O"}, "resolve": {"axis": {"x": "independent"}}, "layer": [
      {"mark": {"type": "area", "clip": true}, "encoding": {"x": {"field": "t", "type": "quantitative", "scale": {"domain": [2003, 2014], "nice": false, "zero": false}, "axis": {"orient": "bottom", "title": "Time (year)", "values": [2004, 2006, 2008, 2010, 2012, 2014], "format": "d"}}, "y": {"field": "lo", "type": "quantitative", "scale": {"domain": [-20, 20], "nice": false}, "axis": {"title": "χ₁ (mas)", "values": [-20, -10, 0, 10, 20]}}, "y2": {"field": "hi"}, "color": {"datum": "range", "type": "nominal", "title": null, "scale": {"domain": ["range", "ALL TCH", "ALL MEAN", "ALL TWS M", "ALL WM"], "range": ["#b3b3b3", "#000000", "#0000ff", "#00ff00", "#ff0000"]}, "legend": {"title": null, "orient": "bottom-right", "direction": "horizontal", "encode": {"symbols": {"update": {"shape": {"signal": "datum.value === 'range' ? 'M-1,-0.6H1V0.6H-1Z' : 'stroke'"}, "fill": {"signal": "datum.value === 'range' ? '#b3b3b3' : 'transparent'"}, "stroke": {"signal": "datum.value === 'range' ? 'transparent' : (datum.value === 'MEAN' || datum.value === 'ALL MEAN') ? '#0000ff' : datum.value === 'ALL TCH' ? '#000000' : datum.value === 'ALL TWS M' ? '#00ff00' : '#ff0000'"}}}}}}}},
      {"transform": [{"fold": ["ALL TCH", "ALL MEAN", "ALL TWS M", "ALL WM"], "as": ["series", "v"]}], "mark": {"type": "line", "clip": true, "strokeWidth": 1}, "encoding": {"x": {"field": "t", "type": "quantitative", "axis": {"orient": "top", "title": "O"}}, "y": {"field": "v", "type": "quantitative", "axis": {"title": "χ₁ (mas)", "values": [-20, -10, 0, 10, 20]}}, "color": {"field": "series", "type": "nominal", "title": null}}}
    ]},
    {"title": "ALL", "width": 315, "height": 99, "data": {"name": "P"}, "resolve": {"axis": {"x": "independent"}}, "layer": [
      {"mark": {"type": "area", "clip": true}, "encoding": {"x": {"field": "t", "type": "quantitative", "scale": {"domain": [2003, 2014], "nice": false, "zero": false}, "axis": {"orient": "bottom", "title": "Time (year)", "values": [2004, 2006, 2008, 2010, 2012, 2014], "format": "d"}}, "y": {"field": "lo", "type": "quantitative", "scale": {"domain": [-20, 20], "nice": false}, "axis": {"title": "χ₂ (mas)", "values": [-20, -10, 0, 10, 20]}}, "y2": {"field": "hi"}, "color": {"datum": "range", "type": "nominal", "title": null, "scale": {"domain": ["range", "ALL TCH", "ALL MEAN", "ALL TWS M", "ALL WM"], "range": ["#b3b3b3", "#000000", "#0000ff", "#00ff00", "#ff0000"]}, "legend": {"title": null, "orient": "bottom-right", "direction": "horizontal", "encode": {"symbols": {"update": {"shape": {"signal": "datum.value === 'range' ? 'M-1,-0.6H1V0.6H-1Z' : 'stroke'"}, "fill": {"signal": "datum.value === 'range' ? '#b3b3b3' : 'transparent'"}, "stroke": {"signal": "datum.value === 'range' ? 'transparent' : (datum.value === 'MEAN' || datum.value === 'ALL MEAN') ? '#0000ff' : datum.value === 'ALL TCH' ? '#000000' : datum.value === 'ALL TWS M' ? '#00ff00' : '#ff0000'"}}}}}}}},
      {"transform": [{"fold": ["ALL TCH", "ALL MEAN", "ALL TWS M", "ALL WM"], "as": ["series", "v"]}], "mark": {"type": "line", "clip": true, "strokeWidth": 1}, "encoding": {"x": {"field": "t", "type": "quantitative", "axis": {"orient": "top", "title": "P"}}, "y": {"field": "v", "type": "quantitative", "axis": {"title": "χ₂ (mas)", "values": [-20, -10, 0, 10, 20]}}, "color": {"field": "series", "type": "nominal", "title": null}}}
    ]},
    {"title": "GFDL", "width": 315, "height": 99, "data": {"name": "Q"}, "resolve": {"axis": {"x": "independent"}}, "layer": [
      {"mark": {"type": "line", "clip": true, "strokeWidth": 1, "color": "#1a1a1a"}, "encoding": {"x": {"field": "t", "type": "quantitative", "scale": {"domain": [2003, 2014], "nice": false, "zero": false}, "axis": {"orient": "bottom", "title": "Time (year)", "values": [2004, 2006, 2008, 2010, 2012, 2014], "format": "d"}}, "y": {"field": "v", "type": "quantitative", "scale": {"domain": [-20, 20], "nice": false}, "axis": {"title": "χ₁ (mas)", "values": [-20, -10, 0, 10, 20]}}}},
      {"mark": {"type": "line", "clip": true, "strokeOpacity": 0}, "encoding": {"x": {"field": "t", "type": "quantitative", "axis": {"orient": "top", "title": "Q"}}, "y": {"field": "v", "type": "quantitative", "axis": {"title": "χ₁ (mas)", "values": [-20, -10, 0, 10, 20]}}}}
    ]},
    {"title": "GFDL", "width": 315, "height": 99, "data": {"name": "R"}, "resolve": {"axis": {"x": "independent"}}, "layer": [
      {"mark": {"type": "line", "clip": true, "strokeWidth": 1, "color": "#1a1a1a"}, "encoding": {"x": {"field": "t", "type": "quantitative", "scale": {"domain": [2003, 2014], "nice": false, "zero": false}, "axis": {"orient": "bottom", "title": "Time (year)", "values": [2004, 2006, 2008, 2010, 2012, 2014], "format": "d"}}, "y": {"field": "v", "type": "quantitative", "scale": {"domain": [-20, 20], "nice": false}, "axis": {"title": "χ₂ (mas)", "values": [-20, -10, 0, 10, 20]}}}},
      {"mark": {"type": "line", "clip": true, "strokeOpacity": 0}, "encoding": {"x": {"field": "t", "type": "quantitative", "axis": {"orient": "top", "title": "R"}}, "y": {"field": "v", "type": "quantitative", "axis": {"title": "χ₂ (mas)", "values": [-20, -10, 0, 10, 20]}}}}
    ]}
  ],
  "config": {
    "font": "Liberation Sans",
    "view": {"stroke": "#a0a0a0", "strokeWidth": 1},
    "axis": {"labelFont": "Liberation Sans", "labelFontSize": 10, "labelColor": "#262626", "titleFont": "Liberation Sans", "titleFontSize": 11, "titleFontWeight": "normal", "titleColor": "#262626", "grid": true, "gridColor": "#e3e3e3", "domain": false, "ticks": false},
    "axisBottom": {"labelPadding": 4, "titlePadding": 2},
    "axisLeft": {"labelPadding": 3, "titlePadding": 3, "titleFontSize": 12},
    "axisTop": {"grid": false, "labels": false, "titleFontSize": 18, "titleFontWeight": "bold", "titleColor": "#000000", "titleAngle": 0, "titleAlign": "left", "titleBaseline": "alphabetic", "titleX": -37, "titleY": 2},
    "title": {"font": "Liberation Sans", "fontSize": 11, "fontWeight": "bold", "color": "#000000", "offset": -9},
    "legend": {"offset": 1, "padding": 2, "fillColor": "#ffffff", "strokeColor": "#262626", "labelFont": "Liberation Sans", "labelFontSize": 9, "labelColor": "#000000", "symbolSize": 144, "symbolStrokeWidth": 1, "columnPadding": 3, "labelOffset": 1, "rowPadding": 0}
  }
}
